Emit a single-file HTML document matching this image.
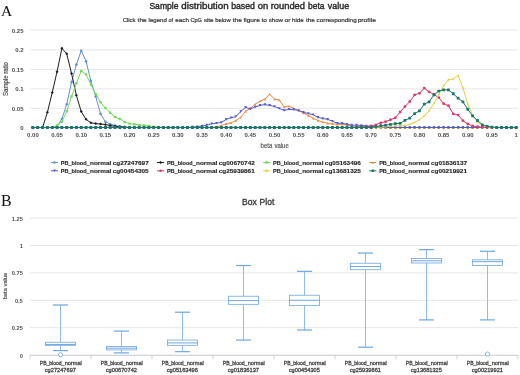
<!DOCTYPE html>
<html><head><meta charset="utf-8"><style>
html,body{margin:0;padding:0;background:#fff;width:520px;height:375px;overflow:hidden}
svg{display:block;will-change:transform}
text{font-family:"Liberation Sans",sans-serif}
.serif{font-family:"Liberation Serif",serif}
</style></head><body>
<svg width="520" height="375" viewBox="0 0 520 375">
<rect width="520" height="375" fill="#fff"/>

<text class="serif" x="0.9" y="15.6" font-size="15.5" fill="#111">A</text>
<text x="149.41" y="8.65" font-size="9" fill="#2a2a2a" textLength="29.06" lengthAdjust="spacingAndGlyphs" stroke="#2a2a2a" stroke-width="0.4">Sample</text>
<text x="181.39" y="8.65" font-size="9" fill="#2a2a2a" textLength="47.24" lengthAdjust="spacingAndGlyphs" stroke="#2a2a2a" stroke-width="0.4">distribution</text>
<text x="231.14" y="8.65" font-size="9" fill="#2a2a2a" textLength="23.72" lengthAdjust="spacingAndGlyphs" stroke="#2a2a2a" stroke-width="0.4">based</text>
<text x="257.70" y="8.65" font-size="9" fill="#2a2a2a" textLength="10.50" lengthAdjust="spacingAndGlyphs" stroke="#2a2a2a" stroke-width="0.4">on</text>
<text x="270.68" y="8.65" font-size="9" fill="#2a2a2a" textLength="34.32" lengthAdjust="spacingAndGlyphs" stroke="#2a2a2a" stroke-width="0.4">rounded</text>
<text x="307.96" y="8.65" font-size="9" fill="#2a2a2a" textLength="16.54" lengthAdjust="spacingAndGlyphs" stroke="#2a2a2a" stroke-width="0.4">beta</text>
<text x="327.77" y="8.65" font-size="9" fill="#2a2a2a" textLength="21.32" lengthAdjust="spacingAndGlyphs" stroke="#2a2a2a" stroke-width="0.4">value</text>
<text x="122.70" y="21.80" font-size="6.2" fill="#333" textLength="12.88" lengthAdjust="spacingAndGlyphs" stroke="#333" stroke-width="0.2">Click</text>
<text x="137.60" y="21.80" font-size="6.2" fill="#333" textLength="9.09" lengthAdjust="spacingAndGlyphs" stroke="#333" stroke-width="0.2">the</text>
<text x="148.59" y="21.80" font-size="6.2" fill="#333" textLength="18.30" lengthAdjust="spacingAndGlyphs" stroke="#333" stroke-width="0.2">legend</text>
<text x="168.47" y="21.80" font-size="6.2" fill="#333" textLength="4.52" lengthAdjust="spacingAndGlyphs" stroke="#333" stroke-width="0.2">of</text>
<text x="175.34" y="21.80" font-size="6.2" fill="#333" textLength="13.57" lengthAdjust="spacingAndGlyphs" stroke="#333" stroke-width="0.2">each</text>
<text x="190.42" y="21.80" font-size="6.2" fill="#333" textLength="11.60" lengthAdjust="spacingAndGlyphs" stroke="#333" stroke-width="0.2">CpG</text>
<text x="203.73" y="21.80" font-size="6.2" fill="#333" textLength="9.96" lengthAdjust="spacingAndGlyphs" stroke="#333" stroke-width="0.2">site</text>
<text x="215.22" y="21.80" font-size="6.2" fill="#333" textLength="15.46" lengthAdjust="spacingAndGlyphs" stroke="#333" stroke-width="0.2">below</text>
<text x="232.80" y="21.80" font-size="6.2" fill="#333" textLength="9.09" lengthAdjust="spacingAndGlyphs" stroke="#333" stroke-width="0.2">the</text>
<text x="243.41" y="21.80" font-size="6.2" fill="#333" textLength="16.38" lengthAdjust="spacingAndGlyphs" stroke="#333" stroke-width="0.2">figure</text>
<text x="261.50" y="21.80" font-size="6.2" fill="#333" textLength="5.57" lengthAdjust="spacingAndGlyphs" stroke="#333" stroke-width="0.2">to</text>
<text x="268.84" y="21.80" font-size="6.2" fill="#333" textLength="14.15" lengthAdjust="spacingAndGlyphs" stroke="#333" stroke-width="0.2">show</text>
<text x="284.52" y="21.80" font-size="6.2" fill="#333" textLength="5.99" lengthAdjust="spacingAndGlyphs" stroke="#333" stroke-width="0.2">or</text>
<text x="292.08" y="21.80" font-size="6.2" fill="#333" textLength="11.60" lengthAdjust="spacingAndGlyphs" stroke="#333" stroke-width="0.2">hide</text>
<text x="305.90" y="21.80" font-size="6.2" fill="#333" textLength="8.98" lengthAdjust="spacingAndGlyphs" stroke="#333" stroke-width="0.2">the</text>
<text x="316.63" y="21.80" font-size="6.2" fill="#333" textLength="40.02" lengthAdjust="spacingAndGlyphs" stroke="#333" stroke-width="0.2">corresponding</text>
<text x="357.67" y="21.80" font-size="6.2" fill="#333" textLength="18.22" lengthAdjust="spacingAndGlyphs" stroke="#333" stroke-width="0.2">profile</text>
<line x1="30.5" y1="30.00" x2="518.3" y2="30.00" stroke="#e6e6e6" stroke-width="1"/>
<line x1="30.5" y1="49.90" x2="518.3" y2="49.90" stroke="#e6e6e6" stroke-width="1"/>
<line x1="30.5" y1="69.40" x2="518.3" y2="69.40" stroke="#e6e6e6" stroke-width="1"/>
<line x1="30.5" y1="88.90" x2="518.3" y2="88.90" stroke="#e6e6e6" stroke-width="1"/>
<line x1="30.5" y1="108.30" x2="518.3" y2="108.30" stroke="#e6e6e6" stroke-width="1"/>
<text x="23.5" y="32.90" font-size="6" font-weight="bold" fill="#4a4a4a" text-anchor="end">0.25</text>
<text x="23.5" y="52.30" font-size="6" font-weight="bold" fill="#4a4a4a" text-anchor="end">0.2</text>
<text x="23.5" y="71.70" font-size="6" font-weight="bold" fill="#4a4a4a" text-anchor="end">0.15</text>
<text x="23.5" y="91.10" font-size="6" font-weight="bold" fill="#4a4a4a" text-anchor="end">0.1</text>
<text x="23.5" y="110.50" font-size="6" font-weight="bold" fill="#4a4a4a" text-anchor="end">0.05</text>
<text x="23.5" y="129.90" font-size="6" font-weight="bold" fill="#4a4a4a" text-anchor="end">0</text>
<line x1="30.5" y1="127.5" x2="518.3" y2="127.5" stroke="#c8d2e6" stroke-width="1"/>
<line x1="32.90" y1="127.5" x2="32.90" y2="131" stroke="#c8d2e6" stroke-width="0.6"/>
<text x="32.90" y="137.4" font-size="6" font-weight="bold" fill="#4a4a4a" text-anchor="middle">0.00</text>
<line x1="57.06" y1="127.5" x2="57.06" y2="131" stroke="#c8d2e6" stroke-width="0.6"/>
<text x="57.06" y="137.4" font-size="6" font-weight="bold" fill="#4a4a4a" text-anchor="middle">0.05</text>
<line x1="81.22" y1="127.5" x2="81.22" y2="131" stroke="#c8d2e6" stroke-width="0.6"/>
<text x="81.22" y="137.4" font-size="6" font-weight="bold" fill="#4a4a4a" text-anchor="middle">0.10</text>
<line x1="105.38" y1="127.5" x2="105.38" y2="131" stroke="#c8d2e6" stroke-width="0.6"/>
<text x="105.38" y="137.4" font-size="6" font-weight="bold" fill="#4a4a4a" text-anchor="middle">0.15</text>
<line x1="129.54" y1="127.5" x2="129.54" y2="131" stroke="#c8d2e6" stroke-width="0.6"/>
<text x="129.54" y="137.4" font-size="6" font-weight="bold" fill="#4a4a4a" text-anchor="middle">0.20</text>
<line x1="153.70" y1="127.5" x2="153.70" y2="131" stroke="#c8d2e6" stroke-width="0.6"/>
<text x="153.70" y="137.4" font-size="6" font-weight="bold" fill="#4a4a4a" text-anchor="middle">0.25</text>
<line x1="177.86" y1="127.5" x2="177.86" y2="131" stroke="#c8d2e6" stroke-width="0.6"/>
<text x="177.86" y="137.4" font-size="6" font-weight="bold" fill="#4a4a4a" text-anchor="middle">0.30</text>
<line x1="202.02" y1="127.5" x2="202.02" y2="131" stroke="#c8d2e6" stroke-width="0.6"/>
<text x="202.02" y="137.4" font-size="6" font-weight="bold" fill="#4a4a4a" text-anchor="middle">0.35</text>
<line x1="226.18" y1="127.5" x2="226.18" y2="131" stroke="#c8d2e6" stroke-width="0.6"/>
<text x="226.18" y="137.4" font-size="6" font-weight="bold" fill="#4a4a4a" text-anchor="middle">0.40</text>
<line x1="250.34" y1="127.5" x2="250.34" y2="131" stroke="#c8d2e6" stroke-width="0.6"/>
<text x="250.34" y="137.4" font-size="6" font-weight="bold" fill="#4a4a4a" text-anchor="middle">0.45</text>
<line x1="274.50" y1="127.5" x2="274.50" y2="131" stroke="#c8d2e6" stroke-width="0.6"/>
<text x="274.50" y="137.4" font-size="6" font-weight="bold" fill="#4a4a4a" text-anchor="middle">0.50</text>
<line x1="298.66" y1="127.5" x2="298.66" y2="131" stroke="#c8d2e6" stroke-width="0.6"/>
<text x="298.66" y="137.4" font-size="6" font-weight="bold" fill="#4a4a4a" text-anchor="middle">0.55</text>
<line x1="322.82" y1="127.5" x2="322.82" y2="131" stroke="#c8d2e6" stroke-width="0.6"/>
<text x="322.82" y="137.4" font-size="6" font-weight="bold" fill="#4a4a4a" text-anchor="middle">0.60</text>
<line x1="346.98" y1="127.5" x2="346.98" y2="131" stroke="#c8d2e6" stroke-width="0.6"/>
<text x="346.98" y="137.4" font-size="6" font-weight="bold" fill="#4a4a4a" text-anchor="middle">0.65</text>
<line x1="371.14" y1="127.5" x2="371.14" y2="131" stroke="#c8d2e6" stroke-width="0.6"/>
<text x="371.14" y="137.4" font-size="6" font-weight="bold" fill="#4a4a4a" text-anchor="middle">0.70</text>
<line x1="395.30" y1="127.5" x2="395.30" y2="131" stroke="#c8d2e6" stroke-width="0.6"/>
<text x="395.30" y="137.4" font-size="6" font-weight="bold" fill="#4a4a4a" text-anchor="middle">0.75</text>
<line x1="419.46" y1="127.5" x2="419.46" y2="131" stroke="#c8d2e6" stroke-width="0.6"/>
<text x="419.46" y="137.4" font-size="6" font-weight="bold" fill="#4a4a4a" text-anchor="middle">0.80</text>
<line x1="443.62" y1="127.5" x2="443.62" y2="131" stroke="#c8d2e6" stroke-width="0.6"/>
<text x="443.62" y="137.4" font-size="6" font-weight="bold" fill="#4a4a4a" text-anchor="middle">0.85</text>
<line x1="467.78" y1="127.5" x2="467.78" y2="131" stroke="#c8d2e6" stroke-width="0.6"/>
<text x="467.78" y="137.4" font-size="6" font-weight="bold" fill="#4a4a4a" text-anchor="middle">0.90</text>
<line x1="491.94" y1="127.5" x2="491.94" y2="131" stroke="#c8d2e6" stroke-width="0.6"/>
<text x="491.94" y="137.4" font-size="6" font-weight="bold" fill="#4a4a4a" text-anchor="middle">0.95</text>
<line x1="516.10" y1="127.5" x2="516.10" y2="131" stroke="#c8d2e6" stroke-width="0.6"/>
<text x="516.10" y="137.4" font-size="6" font-weight="bold" fill="#4a4a4a" text-anchor="middle">1</text>
<text x="260.61" y="147.70" font-size="6.4" fill="#4a4a4a" textLength="11.78" lengthAdjust="spacingAndGlyphs" stroke="#4a4a4a" stroke-width="0.12">beta</text>
<text x="274.48" y="147.70" font-size="6.4" fill="#4a4a4a" textLength="14.28" lengthAdjust="spacingAndGlyphs" stroke="#4a4a4a" stroke-width="0.12">value</text>
<text transform="translate(7.5 79) rotate(-90)" x="-17" y="0" font-size="6.3" fill="#4a4a4a" stroke="#4a4a4a" stroke-width="0.15" textLength="34" lengthAdjust="spacingAndGlyphs">Sample ratio</text>
<polyline points="32.90,127.50 37.73,127.50 42.56,127.50 47.40,127.50 52.23,127.50 57.06,126.34 61.89,118.96 66.72,104.22 71.56,82.10 76.39,64.64 81.22,50.68 86.05,61.15 90.88,80.94 95.72,96.46 100.55,113.92 105.38,121.68 110.21,124.20 115.04,125.56 119.88,126.34 124.71,127.11 129.54,127.50 134.37,127.50 139.20,127.50 144.04,127.50 148.87,127.50 153.70,127.50 158.53,127.50 163.36,127.50 168.20,127.50 173.03,127.50 177.86,127.50 182.69,127.50 187.52,127.50 192.36,127.50 197.19,127.50 202.02,127.50 206.85,127.50 211.68,127.50 216.52,127.50 221.35,127.50 226.18,127.50 231.01,127.50 235.84,127.50 240.68,127.50 245.51,127.50 250.34,127.50 255.17,127.50 260.00,127.50 264.84,127.50 269.67,127.50 274.50,127.50 279.33,127.50 284.16,127.50 289.00,127.50 293.83,127.50 298.66,127.50 303.49,127.50 308.32,127.50 313.16,127.50 317.99,127.50 322.82,127.50 327.65,127.50 332.48,127.50 337.32,127.50 342.15,127.50 346.98,127.50 351.81,127.50 356.64,127.50 361.48,127.50 366.31,127.50 371.14,127.50 375.97,127.50 380.80,127.50 385.64,127.50 390.47,127.50 395.30,127.50 400.13,127.50 404.96,127.50 409.80,127.50 414.63,127.50 419.46,127.50 424.29,127.50 429.12,127.50 433.96,127.50 438.79,127.50 443.62,127.50 448.45,127.50 453.28,127.50 458.12,127.50 462.95,127.50 467.78,127.50 472.61,127.50 477.44,127.50 482.28,127.50 487.11,127.50 491.94,127.50 496.77,127.50 501.60,127.50 506.44,127.50 511.27,127.50 516.10,127.50" fill="none" stroke="#6292d0" stroke-width="1" stroke-linejoin="round"/>
<circle cx="32.90" cy="127.50" r="1.3" fill="#6292d0"/>
<circle cx="37.73" cy="127.50" r="1.3" fill="#6292d0"/>
<circle cx="42.56" cy="127.50" r="1.3" fill="#6292d0"/>
<circle cx="47.40" cy="127.50" r="1.3" fill="#6292d0"/>
<circle cx="52.23" cy="127.50" r="1.3" fill="#6292d0"/>
<circle cx="57.06" cy="126.34" r="1.3" fill="#6292d0"/>
<circle cx="61.89" cy="118.96" r="1.3" fill="#6292d0"/>
<circle cx="66.72" cy="104.22" r="1.3" fill="#6292d0"/>
<circle cx="71.56" cy="82.10" r="1.3" fill="#6292d0"/>
<circle cx="76.39" cy="64.64" r="1.3" fill="#6292d0"/>
<circle cx="81.22" cy="50.68" r="1.3" fill="#6292d0"/>
<circle cx="86.05" cy="61.15" r="1.3" fill="#6292d0"/>
<circle cx="90.88" cy="80.94" r="1.3" fill="#6292d0"/>
<circle cx="95.72" cy="96.46" r="1.3" fill="#6292d0"/>
<circle cx="100.55" cy="113.92" r="1.3" fill="#6292d0"/>
<circle cx="105.38" cy="121.68" r="1.3" fill="#6292d0"/>
<circle cx="110.21" cy="124.20" r="1.3" fill="#6292d0"/>
<circle cx="115.04" cy="125.56" r="1.3" fill="#6292d0"/>
<circle cx="119.88" cy="126.34" r="1.3" fill="#6292d0"/>
<circle cx="124.71" cy="127.11" r="1.3" fill="#6292d0"/>
<circle cx="129.54" cy="127.50" r="1.3" fill="#6292d0"/>
<circle cx="134.37" cy="127.50" r="1.3" fill="#6292d0"/>
<circle cx="139.20" cy="127.50" r="1.3" fill="#6292d0"/>
<circle cx="144.04" cy="127.50" r="1.3" fill="#6292d0"/>
<circle cx="148.87" cy="127.50" r="1.3" fill="#6292d0"/>
<circle cx="153.70" cy="127.50" r="1.3" fill="#6292d0"/>
<circle cx="158.53" cy="127.50" r="1.3" fill="#6292d0"/>
<circle cx="163.36" cy="127.50" r="1.3" fill="#6292d0"/>
<circle cx="168.20" cy="127.50" r="1.3" fill="#6292d0"/>
<circle cx="173.03" cy="127.50" r="1.3" fill="#6292d0"/>
<circle cx="177.86" cy="127.50" r="1.3" fill="#6292d0"/>
<circle cx="182.69" cy="127.50" r="1.3" fill="#6292d0"/>
<circle cx="187.52" cy="127.50" r="1.3" fill="#6292d0"/>
<circle cx="192.36" cy="127.50" r="1.3" fill="#6292d0"/>
<circle cx="197.19" cy="127.50" r="1.3" fill="#6292d0"/>
<circle cx="202.02" cy="127.50" r="1.3" fill="#6292d0"/>
<circle cx="206.85" cy="127.50" r="1.3" fill="#6292d0"/>
<circle cx="211.68" cy="127.50" r="1.3" fill="#6292d0"/>
<circle cx="216.52" cy="127.50" r="1.3" fill="#6292d0"/>
<circle cx="221.35" cy="127.50" r="1.3" fill="#6292d0"/>
<circle cx="226.18" cy="127.50" r="1.3" fill="#6292d0"/>
<circle cx="231.01" cy="127.50" r="1.3" fill="#6292d0"/>
<circle cx="235.84" cy="127.50" r="1.3" fill="#6292d0"/>
<circle cx="240.68" cy="127.50" r="1.3" fill="#6292d0"/>
<circle cx="245.51" cy="127.50" r="1.3" fill="#6292d0"/>
<circle cx="250.34" cy="127.50" r="1.3" fill="#6292d0"/>
<circle cx="255.17" cy="127.50" r="1.3" fill="#6292d0"/>
<circle cx="260.00" cy="127.50" r="1.3" fill="#6292d0"/>
<circle cx="264.84" cy="127.50" r="1.3" fill="#6292d0"/>
<circle cx="269.67" cy="127.50" r="1.3" fill="#6292d0"/>
<circle cx="274.50" cy="127.50" r="1.3" fill="#6292d0"/>
<circle cx="279.33" cy="127.50" r="1.3" fill="#6292d0"/>
<circle cx="284.16" cy="127.50" r="1.3" fill="#6292d0"/>
<circle cx="289.00" cy="127.50" r="1.3" fill="#6292d0"/>
<circle cx="293.83" cy="127.50" r="1.3" fill="#6292d0"/>
<circle cx="298.66" cy="127.50" r="1.3" fill="#6292d0"/>
<circle cx="303.49" cy="127.50" r="1.3" fill="#6292d0"/>
<circle cx="308.32" cy="127.50" r="1.3" fill="#6292d0"/>
<circle cx="313.16" cy="127.50" r="1.3" fill="#6292d0"/>
<circle cx="317.99" cy="127.50" r="1.3" fill="#6292d0"/>
<circle cx="322.82" cy="127.50" r="1.3" fill="#6292d0"/>
<circle cx="327.65" cy="127.50" r="1.3" fill="#6292d0"/>
<circle cx="332.48" cy="127.50" r="1.3" fill="#6292d0"/>
<circle cx="337.32" cy="127.50" r="1.3" fill="#6292d0"/>
<circle cx="342.15" cy="127.50" r="1.3" fill="#6292d0"/>
<circle cx="346.98" cy="127.50" r="1.3" fill="#6292d0"/>
<circle cx="351.81" cy="127.50" r="1.3" fill="#6292d0"/>
<circle cx="356.64" cy="127.50" r="1.3" fill="#6292d0"/>
<circle cx="361.48" cy="127.50" r="1.3" fill="#6292d0"/>
<circle cx="366.31" cy="127.50" r="1.3" fill="#6292d0"/>
<circle cx="371.14" cy="127.50" r="1.3" fill="#6292d0"/>
<circle cx="375.97" cy="127.50" r="1.3" fill="#6292d0"/>
<circle cx="380.80" cy="127.50" r="1.3" fill="#6292d0"/>
<circle cx="385.64" cy="127.50" r="1.3" fill="#6292d0"/>
<circle cx="390.47" cy="127.50" r="1.3" fill="#6292d0"/>
<circle cx="395.30" cy="127.50" r="1.3" fill="#6292d0"/>
<circle cx="400.13" cy="127.50" r="1.3" fill="#6292d0"/>
<circle cx="404.96" cy="127.50" r="1.3" fill="#6292d0"/>
<circle cx="409.80" cy="127.50" r="1.3" fill="#6292d0"/>
<circle cx="414.63" cy="127.50" r="1.3" fill="#6292d0"/>
<circle cx="419.46" cy="127.50" r="1.3" fill="#6292d0"/>
<circle cx="424.29" cy="127.50" r="1.3" fill="#6292d0"/>
<circle cx="429.12" cy="127.50" r="1.3" fill="#6292d0"/>
<circle cx="433.96" cy="127.50" r="1.3" fill="#6292d0"/>
<circle cx="438.79" cy="127.50" r="1.3" fill="#6292d0"/>
<circle cx="443.62" cy="127.50" r="1.3" fill="#6292d0"/>
<circle cx="448.45" cy="127.50" r="1.3" fill="#6292d0"/>
<circle cx="453.28" cy="127.50" r="1.3" fill="#6292d0"/>
<circle cx="458.12" cy="127.50" r="1.3" fill="#6292d0"/>
<circle cx="462.95" cy="127.50" r="1.3" fill="#6292d0"/>
<circle cx="467.78" cy="127.50" r="1.3" fill="#6292d0"/>
<circle cx="472.61" cy="127.50" r="1.3" fill="#6292d0"/>
<circle cx="477.44" cy="127.50" r="1.3" fill="#6292d0"/>
<circle cx="482.28" cy="127.50" r="1.3" fill="#6292d0"/>
<circle cx="487.11" cy="127.50" r="1.3" fill="#6292d0"/>
<circle cx="491.94" cy="127.50" r="1.3" fill="#6292d0"/>
<circle cx="496.77" cy="127.50" r="1.3" fill="#6292d0"/>
<circle cx="501.60" cy="127.50" r="1.3" fill="#6292d0"/>
<circle cx="506.44" cy="127.50" r="1.3" fill="#6292d0"/>
<circle cx="511.27" cy="127.50" r="1.3" fill="#6292d0"/>
<circle cx="516.10" cy="127.50" r="1.3" fill="#6292d0"/>
<polyline points="32.90,127.50 37.73,127.50 42.56,127.50 47.40,112.37 52.23,92.58 57.06,71.63 61.89,48.35 66.72,53.78 71.56,73.57 76.39,95.30 81.22,111.59 86.05,119.35 90.88,122.84 95.72,123.62 100.55,124.01 105.38,124.59 110.21,125.56 115.04,126.34 119.88,126.72 124.71,127.11 129.54,127.50 134.37,127.50 139.20,127.50 144.04,127.50 148.87,127.50 153.70,127.50 158.53,127.50 163.36,127.50 168.20,127.50 173.03,127.50 177.86,127.50 182.69,127.50 187.52,127.50 192.36,127.50 197.19,127.50 202.02,127.50 206.85,127.50 211.68,127.50 216.52,127.50 221.35,127.50 226.18,127.50 231.01,127.50 235.84,127.50 240.68,127.50 245.51,127.50 250.34,127.50 255.17,127.50 260.00,127.50 264.84,127.50 269.67,127.50 274.50,127.50 279.33,127.50 284.16,127.50 289.00,127.50 293.83,127.50 298.66,127.50 303.49,127.50 308.32,127.50 313.16,127.50 317.99,127.50 322.82,127.50 327.65,127.50 332.48,127.50 337.32,127.50 342.15,127.50 346.98,127.50 351.81,127.50 356.64,127.50 361.48,127.50 366.31,127.50 371.14,127.50 375.97,127.50 380.80,127.50 385.64,127.50 390.47,127.50 395.30,127.50 400.13,127.50 404.96,127.50 409.80,127.50 414.63,127.50 419.46,127.50 424.29,127.50 429.12,127.50 433.96,127.50 438.79,127.50 443.62,127.50 448.45,127.50 453.28,127.50 458.12,127.50 462.95,127.50 467.78,127.50 472.61,127.50 477.44,127.50 482.28,127.50 487.11,127.50 491.94,127.50 496.77,127.50 501.60,127.50 506.44,127.50 511.27,127.50 516.10,127.50" fill="none" stroke="#1e1e22" stroke-width="1" stroke-linejoin="round"/>
<path d="M32.90 126.00L34.40 127.50L32.90 129.00L31.40 127.50Z" fill="#1e1e22"/>
<path d="M37.73 126.00L39.23 127.50L37.73 129.00L36.23 127.50Z" fill="#1e1e22"/>
<path d="M42.56 126.00L44.06 127.50L42.56 129.00L41.06 127.50Z" fill="#1e1e22"/>
<path d="M47.40 110.87L48.90 112.37L47.40 113.87L45.90 112.37Z" fill="#1e1e22"/>
<path d="M52.23 91.08L53.73 92.58L52.23 94.08L50.73 92.58Z" fill="#1e1e22"/>
<path d="M57.06 70.13L58.56 71.63L57.06 73.13L55.56 71.63Z" fill="#1e1e22"/>
<path d="M61.89 46.85L63.39 48.35L61.89 49.85L60.39 48.35Z" fill="#1e1e22"/>
<path d="M66.72 52.28L68.22 53.78L66.72 55.28L65.22 53.78Z" fill="#1e1e22"/>
<path d="M71.56 72.07L73.06 73.57L71.56 75.07L70.06 73.57Z" fill="#1e1e22"/>
<path d="M76.39 93.80L77.89 95.30L76.39 96.80L74.89 95.30Z" fill="#1e1e22"/>
<path d="M81.22 110.09L82.72 111.59L81.22 113.09L79.72 111.59Z" fill="#1e1e22"/>
<path d="M86.05 117.85L87.55 119.35L86.05 120.85L84.55 119.35Z" fill="#1e1e22"/>
<path d="M90.88 121.34L92.38 122.84L90.88 124.34L89.38 122.84Z" fill="#1e1e22"/>
<path d="M95.72 122.12L97.22 123.62L95.72 125.12L94.22 123.62Z" fill="#1e1e22"/>
<path d="M100.55 122.51L102.05 124.01L100.55 125.51L99.05 124.01Z" fill="#1e1e22"/>
<path d="M105.38 123.09L106.88 124.59L105.38 126.09L103.88 124.59Z" fill="#1e1e22"/>
<path d="M110.21 124.06L111.71 125.56L110.21 127.06L108.71 125.56Z" fill="#1e1e22"/>
<path d="M115.04 124.84L116.54 126.34L115.04 127.84L113.54 126.34Z" fill="#1e1e22"/>
<path d="M119.88 125.22L121.38 126.72L119.88 128.22L118.38 126.72Z" fill="#1e1e22"/>
<path d="M124.71 125.61L126.21 127.11L124.71 128.61L123.21 127.11Z" fill="#1e1e22"/>
<path d="M129.54 126.00L131.04 127.50L129.54 129.00L128.04 127.50Z" fill="#1e1e22"/>
<path d="M134.37 126.00L135.87 127.50L134.37 129.00L132.87 127.50Z" fill="#1e1e22"/>
<path d="M139.20 126.00L140.70 127.50L139.20 129.00L137.70 127.50Z" fill="#1e1e22"/>
<path d="M144.04 126.00L145.54 127.50L144.04 129.00L142.54 127.50Z" fill="#1e1e22"/>
<path d="M148.87 126.00L150.37 127.50L148.87 129.00L147.37 127.50Z" fill="#1e1e22"/>
<path d="M153.70 126.00L155.20 127.50L153.70 129.00L152.20 127.50Z" fill="#1e1e22"/>
<path d="M158.53 126.00L160.03 127.50L158.53 129.00L157.03 127.50Z" fill="#1e1e22"/>
<path d="M163.36 126.00L164.86 127.50L163.36 129.00L161.86 127.50Z" fill="#1e1e22"/>
<path d="M168.20 126.00L169.70 127.50L168.20 129.00L166.70 127.50Z" fill="#1e1e22"/>
<path d="M173.03 126.00L174.53 127.50L173.03 129.00L171.53 127.50Z" fill="#1e1e22"/>
<path d="M177.86 126.00L179.36 127.50L177.86 129.00L176.36 127.50Z" fill="#1e1e22"/>
<path d="M182.69 126.00L184.19 127.50L182.69 129.00L181.19 127.50Z" fill="#1e1e22"/>
<path d="M187.52 126.00L189.02 127.50L187.52 129.00L186.02 127.50Z" fill="#1e1e22"/>
<path d="M192.36 126.00L193.86 127.50L192.36 129.00L190.86 127.50Z" fill="#1e1e22"/>
<path d="M197.19 126.00L198.69 127.50L197.19 129.00L195.69 127.50Z" fill="#1e1e22"/>
<path d="M202.02 126.00L203.52 127.50L202.02 129.00L200.52 127.50Z" fill="#1e1e22"/>
<path d="M206.85 126.00L208.35 127.50L206.85 129.00L205.35 127.50Z" fill="#1e1e22"/>
<path d="M211.68 126.00L213.18 127.50L211.68 129.00L210.18 127.50Z" fill="#1e1e22"/>
<path d="M216.52 126.00L218.02 127.50L216.52 129.00L215.02 127.50Z" fill="#1e1e22"/>
<path d="M221.35 126.00L222.85 127.50L221.35 129.00L219.85 127.50Z" fill="#1e1e22"/>
<path d="M226.18 126.00L227.68 127.50L226.18 129.00L224.68 127.50Z" fill="#1e1e22"/>
<path d="M231.01 126.00L232.51 127.50L231.01 129.00L229.51 127.50Z" fill="#1e1e22"/>
<path d="M235.84 126.00L237.34 127.50L235.84 129.00L234.34 127.50Z" fill="#1e1e22"/>
<path d="M240.68 126.00L242.18 127.50L240.68 129.00L239.18 127.50Z" fill="#1e1e22"/>
<path d="M245.51 126.00L247.01 127.50L245.51 129.00L244.01 127.50Z" fill="#1e1e22"/>
<path d="M250.34 126.00L251.84 127.50L250.34 129.00L248.84 127.50Z" fill="#1e1e22"/>
<path d="M255.17 126.00L256.67 127.50L255.17 129.00L253.67 127.50Z" fill="#1e1e22"/>
<path d="M260.00 126.00L261.50 127.50L260.00 129.00L258.50 127.50Z" fill="#1e1e22"/>
<path d="M264.84 126.00L266.34 127.50L264.84 129.00L263.34 127.50Z" fill="#1e1e22"/>
<path d="M269.67 126.00L271.17 127.50L269.67 129.00L268.17 127.50Z" fill="#1e1e22"/>
<path d="M274.50 126.00L276.00 127.50L274.50 129.00L273.00 127.50Z" fill="#1e1e22"/>
<path d="M279.33 126.00L280.83 127.50L279.33 129.00L277.83 127.50Z" fill="#1e1e22"/>
<path d="M284.16 126.00L285.66 127.50L284.16 129.00L282.66 127.50Z" fill="#1e1e22"/>
<path d="M289.00 126.00L290.50 127.50L289.00 129.00L287.50 127.50Z" fill="#1e1e22"/>
<path d="M293.83 126.00L295.33 127.50L293.83 129.00L292.33 127.50Z" fill="#1e1e22"/>
<path d="M298.66 126.00L300.16 127.50L298.66 129.00L297.16 127.50Z" fill="#1e1e22"/>
<path d="M303.49 126.00L304.99 127.50L303.49 129.00L301.99 127.50Z" fill="#1e1e22"/>
<path d="M308.32 126.00L309.82 127.50L308.32 129.00L306.82 127.50Z" fill="#1e1e22"/>
<path d="M313.16 126.00L314.66 127.50L313.16 129.00L311.66 127.50Z" fill="#1e1e22"/>
<path d="M317.99 126.00L319.49 127.50L317.99 129.00L316.49 127.50Z" fill="#1e1e22"/>
<path d="M322.82 126.00L324.32 127.50L322.82 129.00L321.32 127.50Z" fill="#1e1e22"/>
<path d="M327.65 126.00L329.15 127.50L327.65 129.00L326.15 127.50Z" fill="#1e1e22"/>
<path d="M332.48 126.00L333.98 127.50L332.48 129.00L330.98 127.50Z" fill="#1e1e22"/>
<path d="M337.32 126.00L338.82 127.50L337.32 129.00L335.82 127.50Z" fill="#1e1e22"/>
<path d="M342.15 126.00L343.65 127.50L342.15 129.00L340.65 127.50Z" fill="#1e1e22"/>
<path d="M346.98 126.00L348.48 127.50L346.98 129.00L345.48 127.50Z" fill="#1e1e22"/>
<path d="M351.81 126.00L353.31 127.50L351.81 129.00L350.31 127.50Z" fill="#1e1e22"/>
<path d="M356.64 126.00L358.14 127.50L356.64 129.00L355.14 127.50Z" fill="#1e1e22"/>
<path d="M361.48 126.00L362.98 127.50L361.48 129.00L359.98 127.50Z" fill="#1e1e22"/>
<path d="M366.31 126.00L367.81 127.50L366.31 129.00L364.81 127.50Z" fill="#1e1e22"/>
<path d="M371.14 126.00L372.64 127.50L371.14 129.00L369.64 127.50Z" fill="#1e1e22"/>
<path d="M375.97 126.00L377.47 127.50L375.97 129.00L374.47 127.50Z" fill="#1e1e22"/>
<path d="M380.80 126.00L382.30 127.50L380.80 129.00L379.30 127.50Z" fill="#1e1e22"/>
<path d="M385.64 126.00L387.14 127.50L385.64 129.00L384.14 127.50Z" fill="#1e1e22"/>
<path d="M390.47 126.00L391.97 127.50L390.47 129.00L388.97 127.50Z" fill="#1e1e22"/>
<path d="M395.30 126.00L396.80 127.50L395.30 129.00L393.80 127.50Z" fill="#1e1e22"/>
<path d="M400.13 126.00L401.63 127.50L400.13 129.00L398.63 127.50Z" fill="#1e1e22"/>
<path d="M404.96 126.00L406.46 127.50L404.96 129.00L403.46 127.50Z" fill="#1e1e22"/>
<path d="M409.80 126.00L411.30 127.50L409.80 129.00L408.30 127.50Z" fill="#1e1e22"/>
<path d="M414.63 126.00L416.13 127.50L414.63 129.00L413.13 127.50Z" fill="#1e1e22"/>
<path d="M419.46 126.00L420.96 127.50L419.46 129.00L417.96 127.50Z" fill="#1e1e22"/>
<path d="M424.29 126.00L425.79 127.50L424.29 129.00L422.79 127.50Z" fill="#1e1e22"/>
<path d="M429.12 126.00L430.62 127.50L429.12 129.00L427.62 127.50Z" fill="#1e1e22"/>
<path d="M433.96 126.00L435.46 127.50L433.96 129.00L432.46 127.50Z" fill="#1e1e22"/>
<path d="M438.79 126.00L440.29 127.50L438.79 129.00L437.29 127.50Z" fill="#1e1e22"/>
<path d="M443.62 126.00L445.12 127.50L443.62 129.00L442.12 127.50Z" fill="#1e1e22"/>
<path d="M448.45 126.00L449.95 127.50L448.45 129.00L446.95 127.50Z" fill="#1e1e22"/>
<path d="M453.28 126.00L454.78 127.50L453.28 129.00L451.78 127.50Z" fill="#1e1e22"/>
<path d="M458.12 126.00L459.62 127.50L458.12 129.00L456.62 127.50Z" fill="#1e1e22"/>
<path d="M462.95 126.00L464.45 127.50L462.95 129.00L461.45 127.50Z" fill="#1e1e22"/>
<path d="M467.78 126.00L469.28 127.50L467.78 129.00L466.28 127.50Z" fill="#1e1e22"/>
<path d="M472.61 126.00L474.11 127.50L472.61 129.00L471.11 127.50Z" fill="#1e1e22"/>
<path d="M477.44 126.00L478.94 127.50L477.44 129.00L475.94 127.50Z" fill="#1e1e22"/>
<path d="M482.28 126.00L483.78 127.50L482.28 129.00L480.78 127.50Z" fill="#1e1e22"/>
<path d="M487.11 126.00L488.61 127.50L487.11 129.00L485.61 127.50Z" fill="#1e1e22"/>
<path d="M491.94 126.00L493.44 127.50L491.94 129.00L490.44 127.50Z" fill="#1e1e22"/>
<path d="M496.77 126.00L498.27 127.50L496.77 129.00L495.27 127.50Z" fill="#1e1e22"/>
<path d="M501.60 126.00L503.10 127.50L501.60 129.00L500.10 127.50Z" fill="#1e1e22"/>
<path d="M506.44 126.00L507.94 127.50L506.44 129.00L504.94 127.50Z" fill="#1e1e22"/>
<path d="M511.27 126.00L512.77 127.50L511.27 129.00L509.77 127.50Z" fill="#1e1e22"/>
<path d="M516.10 126.00L517.60 127.50L516.10 129.00L514.60 127.50Z" fill="#1e1e22"/>
<polyline points="32.90,127.50 37.73,127.50 42.56,127.50 47.40,127.50 52.23,127.50 57.06,125.56 61.89,121.68 66.72,111.20 71.56,96.46 76.39,83.27 81.22,70.85 86.05,74.34 90.88,84.43 95.72,94.13 100.55,102.28 105.38,108.10 110.21,112.76 115.04,117.02 119.88,118.96 124.71,122.07 129.54,123.62 134.37,124.20 139.20,125.02 144.04,125.56 148.87,125.95 153.70,126.72 158.53,127.11 163.36,127.50 168.20,127.50 173.03,127.50 177.86,127.50 182.69,127.50 187.52,127.50 192.36,127.50 197.19,127.50 202.02,127.50 206.85,127.50 211.68,127.50 216.52,127.50 221.35,127.50 226.18,127.50 231.01,127.50 235.84,127.50 240.68,127.50 245.51,127.50 250.34,127.50 255.17,127.50 260.00,127.50 264.84,127.50 269.67,127.50 274.50,127.50 279.33,127.50 284.16,127.50 289.00,127.50 293.83,127.50 298.66,127.50 303.49,127.50 308.32,127.50 313.16,127.50 317.99,127.50 322.82,127.50 327.65,127.50 332.48,127.50 337.32,127.50 342.15,127.50 346.98,127.50 351.81,127.50 356.64,127.50 361.48,127.50 366.31,127.50 371.14,127.50 375.97,127.50 380.80,127.50 385.64,127.50 390.47,127.50 395.30,127.50 400.13,127.50 404.96,127.50 409.80,127.50 414.63,127.50 419.46,127.50 424.29,127.50 429.12,127.50 433.96,127.50 438.79,127.50 443.62,127.50 448.45,127.50 453.28,127.50 458.12,127.50 462.95,127.50 467.78,127.50 472.61,127.50 477.44,127.50 482.28,127.50 487.11,127.50 491.94,127.50 496.77,127.50 501.60,127.50 506.44,127.50 511.27,127.50 516.10,127.50" fill="none" stroke="#72dc5a" stroke-width="1" stroke-linejoin="round"/>
<rect x="31.70" y="126.30" width="2.4" height="2.4" rx="0.54" fill="#72dc5a"/>
<rect x="36.53" y="126.30" width="2.4" height="2.4" rx="0.54" fill="#72dc5a"/>
<rect x="41.36" y="126.30" width="2.4" height="2.4" rx="0.54" fill="#72dc5a"/>
<rect x="46.20" y="126.30" width="2.4" height="2.4" rx="0.54" fill="#72dc5a"/>
<rect x="51.03" y="126.30" width="2.4" height="2.4" rx="0.54" fill="#72dc5a"/>
<rect x="55.86" y="124.36" width="2.4" height="2.4" rx="0.54" fill="#72dc5a"/>
<rect x="60.69" y="120.48" width="2.4" height="2.4" rx="0.54" fill="#72dc5a"/>
<rect x="65.52" y="110.00" width="2.4" height="2.4" rx="0.54" fill="#72dc5a"/>
<rect x="70.36" y="95.26" width="2.4" height="2.4" rx="0.54" fill="#72dc5a"/>
<rect x="75.19" y="82.07" width="2.4" height="2.4" rx="0.54" fill="#72dc5a"/>
<rect x="80.02" y="69.65" width="2.4" height="2.4" rx="0.54" fill="#72dc5a"/>
<rect x="84.85" y="73.14" width="2.4" height="2.4" rx="0.54" fill="#72dc5a"/>
<rect x="89.68" y="83.23" width="2.4" height="2.4" rx="0.54" fill="#72dc5a"/>
<rect x="94.52" y="92.93" width="2.4" height="2.4" rx="0.54" fill="#72dc5a"/>
<rect x="99.35" y="101.08" width="2.4" height="2.4" rx="0.54" fill="#72dc5a"/>
<rect x="104.18" y="106.90" width="2.4" height="2.4" rx="0.54" fill="#72dc5a"/>
<rect x="109.01" y="111.56" width="2.4" height="2.4" rx="0.54" fill="#72dc5a"/>
<rect x="113.84" y="115.82" width="2.4" height="2.4" rx="0.54" fill="#72dc5a"/>
<rect x="118.68" y="117.76" width="2.4" height="2.4" rx="0.54" fill="#72dc5a"/>
<rect x="123.51" y="120.87" width="2.4" height="2.4" rx="0.54" fill="#72dc5a"/>
<rect x="128.34" y="122.42" width="2.4" height="2.4" rx="0.54" fill="#72dc5a"/>
<rect x="133.17" y="123.00" width="2.4" height="2.4" rx="0.54" fill="#72dc5a"/>
<rect x="138.00" y="123.82" width="2.4" height="2.4" rx="0.54" fill="#72dc5a"/>
<rect x="142.84" y="124.36" width="2.4" height="2.4" rx="0.54" fill="#72dc5a"/>
<rect x="147.67" y="124.75" width="2.4" height="2.4" rx="0.54" fill="#72dc5a"/>
<rect x="152.50" y="125.52" width="2.4" height="2.4" rx="0.54" fill="#72dc5a"/>
<rect x="157.33" y="125.91" width="2.4" height="2.4" rx="0.54" fill="#72dc5a"/>
<rect x="162.16" y="126.30" width="2.4" height="2.4" rx="0.54" fill="#72dc5a"/>
<rect x="167.00" y="126.30" width="2.4" height="2.4" rx="0.54" fill="#72dc5a"/>
<rect x="171.83" y="126.30" width="2.4" height="2.4" rx="0.54" fill="#72dc5a"/>
<rect x="176.66" y="126.30" width="2.4" height="2.4" rx="0.54" fill="#72dc5a"/>
<rect x="181.49" y="126.30" width="2.4" height="2.4" rx="0.54" fill="#72dc5a"/>
<rect x="186.32" y="126.30" width="2.4" height="2.4" rx="0.54" fill="#72dc5a"/>
<rect x="191.16" y="126.30" width="2.4" height="2.4" rx="0.54" fill="#72dc5a"/>
<rect x="195.99" y="126.30" width="2.4" height="2.4" rx="0.54" fill="#72dc5a"/>
<rect x="200.82" y="126.30" width="2.4" height="2.4" rx="0.54" fill="#72dc5a"/>
<rect x="205.65" y="126.30" width="2.4" height="2.4" rx="0.54" fill="#72dc5a"/>
<rect x="210.48" y="126.30" width="2.4" height="2.4" rx="0.54" fill="#72dc5a"/>
<rect x="215.32" y="126.30" width="2.4" height="2.4" rx="0.54" fill="#72dc5a"/>
<rect x="220.15" y="126.30" width="2.4" height="2.4" rx="0.54" fill="#72dc5a"/>
<rect x="224.98" y="126.30" width="2.4" height="2.4" rx="0.54" fill="#72dc5a"/>
<rect x="229.81" y="126.30" width="2.4" height="2.4" rx="0.54" fill="#72dc5a"/>
<rect x="234.64" y="126.30" width="2.4" height="2.4" rx="0.54" fill="#72dc5a"/>
<rect x="239.48" y="126.30" width="2.4" height="2.4" rx="0.54" fill="#72dc5a"/>
<rect x="244.31" y="126.30" width="2.4" height="2.4" rx="0.54" fill="#72dc5a"/>
<rect x="249.14" y="126.30" width="2.4" height="2.4" rx="0.54" fill="#72dc5a"/>
<rect x="253.97" y="126.30" width="2.4" height="2.4" rx="0.54" fill="#72dc5a"/>
<rect x="258.80" y="126.30" width="2.4" height="2.4" rx="0.54" fill="#72dc5a"/>
<rect x="263.64" y="126.30" width="2.4" height="2.4" rx="0.54" fill="#72dc5a"/>
<rect x="268.47" y="126.30" width="2.4" height="2.4" rx="0.54" fill="#72dc5a"/>
<rect x="273.30" y="126.30" width="2.4" height="2.4" rx="0.54" fill="#72dc5a"/>
<rect x="278.13" y="126.30" width="2.4" height="2.4" rx="0.54" fill="#72dc5a"/>
<rect x="282.96" y="126.30" width="2.4" height="2.4" rx="0.54" fill="#72dc5a"/>
<rect x="287.80" y="126.30" width="2.4" height="2.4" rx="0.54" fill="#72dc5a"/>
<rect x="292.63" y="126.30" width="2.4" height="2.4" rx="0.54" fill="#72dc5a"/>
<rect x="297.46" y="126.30" width="2.4" height="2.4" rx="0.54" fill="#72dc5a"/>
<rect x="302.29" y="126.30" width="2.4" height="2.4" rx="0.54" fill="#72dc5a"/>
<rect x="307.12" y="126.30" width="2.4" height="2.4" rx="0.54" fill="#72dc5a"/>
<rect x="311.96" y="126.30" width="2.4" height="2.4" rx="0.54" fill="#72dc5a"/>
<rect x="316.79" y="126.30" width="2.4" height="2.4" rx="0.54" fill="#72dc5a"/>
<rect x="321.62" y="126.30" width="2.4" height="2.4" rx="0.54" fill="#72dc5a"/>
<rect x="326.45" y="126.30" width="2.4" height="2.4" rx="0.54" fill="#72dc5a"/>
<rect x="331.28" y="126.30" width="2.4" height="2.4" rx="0.54" fill="#72dc5a"/>
<rect x="336.12" y="126.30" width="2.4" height="2.4" rx="0.54" fill="#72dc5a"/>
<rect x="340.95" y="126.30" width="2.4" height="2.4" rx="0.54" fill="#72dc5a"/>
<rect x="345.78" y="126.30" width="2.4" height="2.4" rx="0.54" fill="#72dc5a"/>
<rect x="350.61" y="126.30" width="2.4" height="2.4" rx="0.54" fill="#72dc5a"/>
<rect x="355.44" y="126.30" width="2.4" height="2.4" rx="0.54" fill="#72dc5a"/>
<rect x="360.28" y="126.30" width="2.4" height="2.4" rx="0.54" fill="#72dc5a"/>
<rect x="365.11" y="126.30" width="2.4" height="2.4" rx="0.54" fill="#72dc5a"/>
<rect x="369.94" y="126.30" width="2.4" height="2.4" rx="0.54" fill="#72dc5a"/>
<rect x="374.77" y="126.30" width="2.4" height="2.4" rx="0.54" fill="#72dc5a"/>
<rect x="379.60" y="126.30" width="2.4" height="2.4" rx="0.54" fill="#72dc5a"/>
<rect x="384.44" y="126.30" width="2.4" height="2.4" rx="0.54" fill="#72dc5a"/>
<rect x="389.27" y="126.30" width="2.4" height="2.4" rx="0.54" fill="#72dc5a"/>
<rect x="394.10" y="126.30" width="2.4" height="2.4" rx="0.54" fill="#72dc5a"/>
<rect x="398.93" y="126.30" width="2.4" height="2.4" rx="0.54" fill="#72dc5a"/>
<rect x="403.76" y="126.30" width="2.4" height="2.4" rx="0.54" fill="#72dc5a"/>
<rect x="408.60" y="126.30" width="2.4" height="2.4" rx="0.54" fill="#72dc5a"/>
<rect x="413.43" y="126.30" width="2.4" height="2.4" rx="0.54" fill="#72dc5a"/>
<rect x="418.26" y="126.30" width="2.4" height="2.4" rx="0.54" fill="#72dc5a"/>
<rect x="423.09" y="126.30" width="2.4" height="2.4" rx="0.54" fill="#72dc5a"/>
<rect x="427.92" y="126.30" width="2.4" height="2.4" rx="0.54" fill="#72dc5a"/>
<rect x="432.76" y="126.30" width="2.4" height="2.4" rx="0.54" fill="#72dc5a"/>
<rect x="437.59" y="126.30" width="2.4" height="2.4" rx="0.54" fill="#72dc5a"/>
<rect x="442.42" y="126.30" width="2.4" height="2.4" rx="0.54" fill="#72dc5a"/>
<rect x="447.25" y="126.30" width="2.4" height="2.4" rx="0.54" fill="#72dc5a"/>
<rect x="452.08" y="126.30" width="2.4" height="2.4" rx="0.54" fill="#72dc5a"/>
<rect x="456.92" y="126.30" width="2.4" height="2.4" rx="0.54" fill="#72dc5a"/>
<rect x="461.75" y="126.30" width="2.4" height="2.4" rx="0.54" fill="#72dc5a"/>
<rect x="466.58" y="126.30" width="2.4" height="2.4" rx="0.54" fill="#72dc5a"/>
<rect x="471.41" y="126.30" width="2.4" height="2.4" rx="0.54" fill="#72dc5a"/>
<rect x="476.24" y="126.30" width="2.4" height="2.4" rx="0.54" fill="#72dc5a"/>
<rect x="481.08" y="126.30" width="2.4" height="2.4" rx="0.54" fill="#72dc5a"/>
<rect x="485.91" y="126.30" width="2.4" height="2.4" rx="0.54" fill="#72dc5a"/>
<rect x="490.74" y="126.30" width="2.4" height="2.4" rx="0.54" fill="#72dc5a"/>
<rect x="495.57" y="126.30" width="2.4" height="2.4" rx="0.54" fill="#72dc5a"/>
<rect x="500.40" y="126.30" width="2.4" height="2.4" rx="0.54" fill="#72dc5a"/>
<rect x="505.24" y="126.30" width="2.4" height="2.4" rx="0.54" fill="#72dc5a"/>
<rect x="510.07" y="126.30" width="2.4" height="2.4" rx="0.54" fill="#72dc5a"/>
<rect x="514.90" y="126.30" width="2.4" height="2.4" rx="0.54" fill="#72dc5a"/>
<polyline points="32.90,127.50 37.73,127.50 42.56,127.50 47.40,127.50 52.23,127.50 57.06,127.50 61.89,127.50 66.72,127.50 71.56,127.50 76.39,127.50 81.22,127.50 86.05,127.50 90.88,127.50 95.72,127.50 100.55,127.50 105.38,127.50 110.21,127.50 115.04,127.50 119.88,127.50 124.71,127.50 129.54,127.50 134.37,127.50 139.20,127.50 144.04,127.50 148.87,127.50 153.70,127.50 158.53,127.50 163.36,127.50 168.20,127.50 173.03,127.50 177.86,127.50 182.69,127.50 187.52,127.50 192.36,127.50 197.19,127.50 202.02,127.50 206.85,127.50 211.68,127.50 216.52,126.92 221.35,125.56 226.18,123.81 231.01,122.84 235.84,120.52 240.68,117.41 245.51,111.20 250.34,108.49 255.17,104.22 260.00,101.12 264.84,99.18 269.67,94.13 274.50,99.18 279.33,99.95 284.16,106.94 289.00,106.16 293.83,108.49 298.66,110.43 303.49,113.14 308.32,115.47 313.16,118.19 317.99,120.52 322.82,122.07 327.65,123.23 332.48,123.81 337.32,124.40 342.15,124.40 346.98,125.17 351.81,125.95 356.64,126.34 361.48,126.72 366.31,127.11 371.14,127.50 375.97,127.50 380.80,127.50 385.64,127.50 390.47,127.50 395.30,127.50 400.13,127.50 404.96,127.50 409.80,127.50 414.63,127.50 419.46,127.50 424.29,127.50 429.12,127.50 433.96,127.50 438.79,127.50 443.62,127.50 448.45,127.50 453.28,127.50 458.12,127.50 462.95,127.50 467.78,127.50 472.61,127.50 477.44,127.50 482.28,127.50 487.11,127.50 491.94,127.50 496.77,127.50 501.60,127.50 506.44,127.50 511.27,127.50 516.10,127.50" fill="none" stroke="#e88a40" stroke-width="1" stroke-linejoin="round"/>
<path d="M32.90 126.30L34.10 128.70L31.70 128.70Z" fill="#e88a40"/>
<path d="M37.73 126.30L38.93 128.70L36.53 128.70Z" fill="#e88a40"/>
<path d="M42.56 126.30L43.76 128.70L41.36 128.70Z" fill="#e88a40"/>
<path d="M47.40 126.30L48.60 128.70L46.20 128.70Z" fill="#e88a40"/>
<path d="M52.23 126.30L53.43 128.70L51.03 128.70Z" fill="#e88a40"/>
<path d="M57.06 126.30L58.26 128.70L55.86 128.70Z" fill="#e88a40"/>
<path d="M61.89 126.30L63.09 128.70L60.69 128.70Z" fill="#e88a40"/>
<path d="M66.72 126.30L67.92 128.70L65.52 128.70Z" fill="#e88a40"/>
<path d="M71.56 126.30L72.76 128.70L70.36 128.70Z" fill="#e88a40"/>
<path d="M76.39 126.30L77.59 128.70L75.19 128.70Z" fill="#e88a40"/>
<path d="M81.22 126.30L82.42 128.70L80.02 128.70Z" fill="#e88a40"/>
<path d="M86.05 126.30L87.25 128.70L84.85 128.70Z" fill="#e88a40"/>
<path d="M90.88 126.30L92.08 128.70L89.68 128.70Z" fill="#e88a40"/>
<path d="M95.72 126.30L96.92 128.70L94.52 128.70Z" fill="#e88a40"/>
<path d="M100.55 126.30L101.75 128.70L99.35 128.70Z" fill="#e88a40"/>
<path d="M105.38 126.30L106.58 128.70L104.18 128.70Z" fill="#e88a40"/>
<path d="M110.21 126.30L111.41 128.70L109.01 128.70Z" fill="#e88a40"/>
<path d="M115.04 126.30L116.24 128.70L113.84 128.70Z" fill="#e88a40"/>
<path d="M119.88 126.30L121.08 128.70L118.68 128.70Z" fill="#e88a40"/>
<path d="M124.71 126.30L125.91 128.70L123.51 128.70Z" fill="#e88a40"/>
<path d="M129.54 126.30L130.74 128.70L128.34 128.70Z" fill="#e88a40"/>
<path d="M134.37 126.30L135.57 128.70L133.17 128.70Z" fill="#e88a40"/>
<path d="M139.20 126.30L140.40 128.70L138.00 128.70Z" fill="#e88a40"/>
<path d="M144.04 126.30L145.24 128.70L142.84 128.70Z" fill="#e88a40"/>
<path d="M148.87 126.30L150.07 128.70L147.67 128.70Z" fill="#e88a40"/>
<path d="M153.70 126.30L154.90 128.70L152.50 128.70Z" fill="#e88a40"/>
<path d="M158.53 126.30L159.73 128.70L157.33 128.70Z" fill="#e88a40"/>
<path d="M163.36 126.30L164.56 128.70L162.16 128.70Z" fill="#e88a40"/>
<path d="M168.20 126.30L169.40 128.70L167.00 128.70Z" fill="#e88a40"/>
<path d="M173.03 126.30L174.23 128.70L171.83 128.70Z" fill="#e88a40"/>
<path d="M177.86 126.30L179.06 128.70L176.66 128.70Z" fill="#e88a40"/>
<path d="M182.69 126.30L183.89 128.70L181.49 128.70Z" fill="#e88a40"/>
<path d="M187.52 126.30L188.72 128.70L186.32 128.70Z" fill="#e88a40"/>
<path d="M192.36 126.30L193.56 128.70L191.16 128.70Z" fill="#e88a40"/>
<path d="M197.19 126.30L198.39 128.70L195.99 128.70Z" fill="#e88a40"/>
<path d="M202.02 126.30L203.22 128.70L200.82 128.70Z" fill="#e88a40"/>
<path d="M206.85 126.30L208.05 128.70L205.65 128.70Z" fill="#e88a40"/>
<path d="M211.68 126.30L212.88 128.70L210.48 128.70Z" fill="#e88a40"/>
<path d="M216.52 125.72L217.72 128.12L215.32 128.12Z" fill="#e88a40"/>
<path d="M221.35 124.36L222.55 126.76L220.15 126.76Z" fill="#e88a40"/>
<path d="M226.18 122.61L227.38 125.01L224.98 125.01Z" fill="#e88a40"/>
<path d="M231.01 121.64L232.21 124.04L229.81 124.04Z" fill="#e88a40"/>
<path d="M235.84 119.32L237.04 121.72L234.64 121.72Z" fill="#e88a40"/>
<path d="M240.68 116.21L241.88 118.61L239.48 118.61Z" fill="#e88a40"/>
<path d="M245.51 110.00L246.71 112.40L244.31 112.40Z" fill="#e88a40"/>
<path d="M250.34 107.29L251.54 109.69L249.14 109.69Z" fill="#e88a40"/>
<path d="M255.17 103.02L256.37 105.42L253.97 105.42Z" fill="#e88a40"/>
<path d="M260.00 99.92L261.20 102.32L258.80 102.32Z" fill="#e88a40"/>
<path d="M264.84 97.98L266.04 100.38L263.64 100.38Z" fill="#e88a40"/>
<path d="M269.67 92.93L270.87 95.33L268.47 95.33Z" fill="#e88a40"/>
<path d="M274.50 97.98L275.70 100.38L273.30 100.38Z" fill="#e88a40"/>
<path d="M279.33 98.75L280.53 101.15L278.13 101.15Z" fill="#e88a40"/>
<path d="M284.16 105.74L285.36 108.14L282.96 108.14Z" fill="#e88a40"/>
<path d="M289.00 104.96L290.20 107.36L287.80 107.36Z" fill="#e88a40"/>
<path d="M293.83 107.29L295.03 109.69L292.63 109.69Z" fill="#e88a40"/>
<path d="M298.66 109.23L299.86 111.63L297.46 111.63Z" fill="#e88a40"/>
<path d="M303.49 111.94L304.69 114.34L302.29 114.34Z" fill="#e88a40"/>
<path d="M308.32 114.27L309.52 116.67L307.12 116.67Z" fill="#e88a40"/>
<path d="M313.16 116.99L314.36 119.39L311.96 119.39Z" fill="#e88a40"/>
<path d="M317.99 119.32L319.19 121.72L316.79 121.72Z" fill="#e88a40"/>
<path d="M322.82 120.87L324.02 123.27L321.62 123.27Z" fill="#e88a40"/>
<path d="M327.65 122.03L328.85 124.43L326.45 124.43Z" fill="#e88a40"/>
<path d="M332.48 122.61L333.68 125.01L331.28 125.01Z" fill="#e88a40"/>
<path d="M337.32 123.20L338.52 125.60L336.12 125.60Z" fill="#e88a40"/>
<path d="M342.15 123.20L343.35 125.60L340.95 125.60Z" fill="#e88a40"/>
<path d="M346.98 123.97L348.18 126.37L345.78 126.37Z" fill="#e88a40"/>
<path d="M351.81 124.75L353.01 127.15L350.61 127.15Z" fill="#e88a40"/>
<path d="M356.64 125.14L357.84 127.54L355.44 127.54Z" fill="#e88a40"/>
<path d="M361.48 125.52L362.68 127.92L360.28 127.92Z" fill="#e88a40"/>
<path d="M366.31 125.91L367.51 128.31L365.11 128.31Z" fill="#e88a40"/>
<path d="M371.14 126.30L372.34 128.70L369.94 128.70Z" fill="#e88a40"/>
<path d="M375.97 126.30L377.17 128.70L374.77 128.70Z" fill="#e88a40"/>
<path d="M380.80 126.30L382.00 128.70L379.60 128.70Z" fill="#e88a40"/>
<path d="M385.64 126.30L386.84 128.70L384.44 128.70Z" fill="#e88a40"/>
<path d="M390.47 126.30L391.67 128.70L389.27 128.70Z" fill="#e88a40"/>
<path d="M395.30 126.30L396.50 128.70L394.10 128.70Z" fill="#e88a40"/>
<path d="M400.13 126.30L401.33 128.70L398.93 128.70Z" fill="#e88a40"/>
<path d="M404.96 126.30L406.16 128.70L403.76 128.70Z" fill="#e88a40"/>
<path d="M409.80 126.30L411.00 128.70L408.60 128.70Z" fill="#e88a40"/>
<path d="M414.63 126.30L415.83 128.70L413.43 128.70Z" fill="#e88a40"/>
<path d="M419.46 126.30L420.66 128.70L418.26 128.70Z" fill="#e88a40"/>
<path d="M424.29 126.30L425.49 128.70L423.09 128.70Z" fill="#e88a40"/>
<path d="M429.12 126.30L430.32 128.70L427.92 128.70Z" fill="#e88a40"/>
<path d="M433.96 126.30L435.16 128.70L432.76 128.70Z" fill="#e88a40"/>
<path d="M438.79 126.30L439.99 128.70L437.59 128.70Z" fill="#e88a40"/>
<path d="M443.62 126.30L444.82 128.70L442.42 128.70Z" fill="#e88a40"/>
<path d="M448.45 126.30L449.65 128.70L447.25 128.70Z" fill="#e88a40"/>
<path d="M453.28 126.30L454.48 128.70L452.08 128.70Z" fill="#e88a40"/>
<path d="M458.12 126.30L459.32 128.70L456.92 128.70Z" fill="#e88a40"/>
<path d="M462.95 126.30L464.15 128.70L461.75 128.70Z" fill="#e88a40"/>
<path d="M467.78 126.30L468.98 128.70L466.58 128.70Z" fill="#e88a40"/>
<path d="M472.61 126.30L473.81 128.70L471.41 128.70Z" fill="#e88a40"/>
<path d="M477.44 126.30L478.64 128.70L476.24 128.70Z" fill="#e88a40"/>
<path d="M482.28 126.30L483.48 128.70L481.08 128.70Z" fill="#e88a40"/>
<path d="M487.11 126.30L488.31 128.70L485.91 128.70Z" fill="#e88a40"/>
<path d="M491.94 126.30L493.14 128.70L490.74 128.70Z" fill="#e88a40"/>
<path d="M496.77 126.30L497.97 128.70L495.57 128.70Z" fill="#e88a40"/>
<path d="M501.60 126.30L502.80 128.70L500.40 128.70Z" fill="#e88a40"/>
<path d="M506.44 126.30L507.64 128.70L505.24 128.70Z" fill="#e88a40"/>
<path d="M511.27 126.30L512.47 128.70L510.07 128.70Z" fill="#e88a40"/>
<path d="M516.10 126.30L517.30 128.70L514.90 128.70Z" fill="#e88a40"/>
<polyline points="32.90,127.50 37.73,127.50 42.56,127.50 47.40,127.50 52.23,127.50 57.06,127.50 61.89,127.50 66.72,127.50 71.56,127.50 76.39,127.50 81.22,127.50 86.05,127.50 90.88,127.50 95.72,127.50 100.55,127.50 105.38,127.50 110.21,127.50 115.04,127.50 119.88,127.50 124.71,127.50 129.54,127.50 134.37,127.50 139.20,127.50 144.04,127.50 148.87,127.50 153.70,127.50 158.53,127.50 163.36,127.50 168.20,127.50 173.03,127.50 177.86,127.50 182.69,127.50 187.52,127.50 192.36,127.11 197.19,126.72 202.02,125.95 206.85,125.17 211.68,123.81 216.52,123.23 221.35,122.46 226.18,119.35 231.01,117.80 235.84,116.64 240.68,111.59 245.51,107.32 250.34,108.88 255.17,106.94 260.00,105.38 264.84,104.61 269.67,105.38 274.50,106.55 279.33,108.49 284.16,110.43 289.00,109.26 293.83,109.65 298.66,110.43 303.49,112.37 308.32,113.53 313.16,114.70 317.99,117.41 322.82,118.58 327.65,119.35 332.48,121.29 337.32,123.23 342.15,123.23 346.98,124.40 351.81,125.17 356.64,125.17 361.48,125.56 366.31,125.95 371.14,126.34 375.97,126.72 380.80,127.11 385.64,127.50 390.47,127.50 395.30,127.50 400.13,127.50 404.96,127.50 409.80,127.50 414.63,127.50 419.46,127.50 424.29,127.50 429.12,127.50 433.96,127.50 438.79,127.50 443.62,127.50 448.45,127.50 453.28,127.50 458.12,127.50 462.95,127.50 467.78,127.50 472.61,127.50 477.44,127.50 482.28,127.50 487.11,127.50 491.94,127.50 496.77,127.50 501.60,127.50 506.44,127.50 511.27,127.50 516.10,127.50" fill="none" stroke="#5458cc" stroke-width="1" stroke-linejoin="round"/>
<path d="M31.60 126.20L34.20 126.20L32.90 128.80Z" fill="#5458cc"/>
<path d="M36.43 126.20L39.03 126.20L37.73 128.80Z" fill="#5458cc"/>
<path d="M41.26 126.20L43.86 126.20L42.56 128.80Z" fill="#5458cc"/>
<path d="M46.10 126.20L48.70 126.20L47.40 128.80Z" fill="#5458cc"/>
<path d="M50.93 126.20L53.53 126.20L52.23 128.80Z" fill="#5458cc"/>
<path d="M55.76 126.20L58.36 126.20L57.06 128.80Z" fill="#5458cc"/>
<path d="M60.59 126.20L63.19 126.20L61.89 128.80Z" fill="#5458cc"/>
<path d="M65.42 126.20L68.02 126.20L66.72 128.80Z" fill="#5458cc"/>
<path d="M70.26 126.20L72.86 126.20L71.56 128.80Z" fill="#5458cc"/>
<path d="M75.09 126.20L77.69 126.20L76.39 128.80Z" fill="#5458cc"/>
<path d="M79.92 126.20L82.52 126.20L81.22 128.80Z" fill="#5458cc"/>
<path d="M84.75 126.20L87.35 126.20L86.05 128.80Z" fill="#5458cc"/>
<path d="M89.58 126.20L92.18 126.20L90.88 128.80Z" fill="#5458cc"/>
<path d="M94.42 126.20L97.02 126.20L95.72 128.80Z" fill="#5458cc"/>
<path d="M99.25 126.20L101.85 126.20L100.55 128.80Z" fill="#5458cc"/>
<path d="M104.08 126.20L106.68 126.20L105.38 128.80Z" fill="#5458cc"/>
<path d="M108.91 126.20L111.51 126.20L110.21 128.80Z" fill="#5458cc"/>
<path d="M113.74 126.20L116.34 126.20L115.04 128.80Z" fill="#5458cc"/>
<path d="M118.58 126.20L121.18 126.20L119.88 128.80Z" fill="#5458cc"/>
<path d="M123.41 126.20L126.01 126.20L124.71 128.80Z" fill="#5458cc"/>
<path d="M128.24 126.20L130.84 126.20L129.54 128.80Z" fill="#5458cc"/>
<path d="M133.07 126.20L135.67 126.20L134.37 128.80Z" fill="#5458cc"/>
<path d="M137.90 126.20L140.50 126.20L139.20 128.80Z" fill="#5458cc"/>
<path d="M142.74 126.20L145.34 126.20L144.04 128.80Z" fill="#5458cc"/>
<path d="M147.57 126.20L150.17 126.20L148.87 128.80Z" fill="#5458cc"/>
<path d="M152.40 126.20L155.00 126.20L153.70 128.80Z" fill="#5458cc"/>
<path d="M157.23 126.20L159.83 126.20L158.53 128.80Z" fill="#5458cc"/>
<path d="M162.06 126.20L164.66 126.20L163.36 128.80Z" fill="#5458cc"/>
<path d="M166.90 126.20L169.50 126.20L168.20 128.80Z" fill="#5458cc"/>
<path d="M171.73 126.20L174.33 126.20L173.03 128.80Z" fill="#5458cc"/>
<path d="M176.56 126.20L179.16 126.20L177.86 128.80Z" fill="#5458cc"/>
<path d="M181.39 126.20L183.99 126.20L182.69 128.80Z" fill="#5458cc"/>
<path d="M186.22 126.20L188.82 126.20L187.52 128.80Z" fill="#5458cc"/>
<path d="M191.06 125.81L193.66 125.81L192.36 128.41Z" fill="#5458cc"/>
<path d="M195.89 125.42L198.49 125.42L197.19 128.02Z" fill="#5458cc"/>
<path d="M200.72 124.65L203.32 124.65L202.02 127.25Z" fill="#5458cc"/>
<path d="M205.55 123.87L208.15 123.87L206.85 126.47Z" fill="#5458cc"/>
<path d="M210.38 122.51L212.98 122.51L211.68 125.11Z" fill="#5458cc"/>
<path d="M215.22 121.93L217.82 121.93L216.52 124.53Z" fill="#5458cc"/>
<path d="M220.05 121.16L222.65 121.16L221.35 123.76Z" fill="#5458cc"/>
<path d="M224.88 118.05L227.48 118.05L226.18 120.65Z" fill="#5458cc"/>
<path d="M229.71 116.50L232.31 116.50L231.01 119.10Z" fill="#5458cc"/>
<path d="M234.54 115.34L237.14 115.34L235.84 117.94Z" fill="#5458cc"/>
<path d="M239.38 110.29L241.98 110.29L240.68 112.89Z" fill="#5458cc"/>
<path d="M244.21 106.02L246.81 106.02L245.51 108.62Z" fill="#5458cc"/>
<path d="M249.04 107.58L251.64 107.58L250.34 110.18Z" fill="#5458cc"/>
<path d="M253.87 105.64L256.47 105.64L255.17 108.24Z" fill="#5458cc"/>
<path d="M258.70 104.08L261.30 104.08L260.00 106.68Z" fill="#5458cc"/>
<path d="M263.54 103.31L266.14 103.31L264.84 105.91Z" fill="#5458cc"/>
<path d="M268.37 104.08L270.97 104.08L269.67 106.68Z" fill="#5458cc"/>
<path d="M273.20 105.25L275.80 105.25L274.50 107.85Z" fill="#5458cc"/>
<path d="M278.03 107.19L280.63 107.19L279.33 109.79Z" fill="#5458cc"/>
<path d="M282.86 109.13L285.46 109.13L284.16 111.73Z" fill="#5458cc"/>
<path d="M287.70 107.96L290.30 107.96L289.00 110.56Z" fill="#5458cc"/>
<path d="M292.53 108.35L295.13 108.35L293.83 110.95Z" fill="#5458cc"/>
<path d="M297.36 109.13L299.96 109.13L298.66 111.73Z" fill="#5458cc"/>
<path d="M302.19 111.07L304.79 111.07L303.49 113.67Z" fill="#5458cc"/>
<path d="M307.02 112.23L309.62 112.23L308.32 114.83Z" fill="#5458cc"/>
<path d="M311.86 113.40L314.46 113.40L313.16 116.00Z" fill="#5458cc"/>
<path d="M316.69 116.11L319.29 116.11L317.99 118.71Z" fill="#5458cc"/>
<path d="M321.52 117.28L324.12 117.28L322.82 119.88Z" fill="#5458cc"/>
<path d="M326.35 118.05L328.95 118.05L327.65 120.65Z" fill="#5458cc"/>
<path d="M331.18 119.99L333.78 119.99L332.48 122.59Z" fill="#5458cc"/>
<path d="M336.02 121.93L338.62 121.93L337.32 124.53Z" fill="#5458cc"/>
<path d="M340.85 121.93L343.45 121.93L342.15 124.53Z" fill="#5458cc"/>
<path d="M345.68 123.10L348.28 123.10L346.98 125.70Z" fill="#5458cc"/>
<path d="M350.51 123.87L353.11 123.87L351.81 126.47Z" fill="#5458cc"/>
<path d="M355.34 123.87L357.94 123.87L356.64 126.47Z" fill="#5458cc"/>
<path d="M360.18 124.26L362.78 124.26L361.48 126.86Z" fill="#5458cc"/>
<path d="M365.01 124.65L367.61 124.65L366.31 127.25Z" fill="#5458cc"/>
<path d="M369.84 125.04L372.44 125.04L371.14 127.64Z" fill="#5458cc"/>
<path d="M374.67 125.42L377.27 125.42L375.97 128.02Z" fill="#5458cc"/>
<path d="M379.50 125.81L382.10 125.81L380.80 128.41Z" fill="#5458cc"/>
<path d="M384.34 126.20L386.94 126.20L385.64 128.80Z" fill="#5458cc"/>
<path d="M389.17 126.20L391.77 126.20L390.47 128.80Z" fill="#5458cc"/>
<path d="M394.00 126.20L396.60 126.20L395.30 128.80Z" fill="#5458cc"/>
<path d="M398.83 126.20L401.43 126.20L400.13 128.80Z" fill="#5458cc"/>
<path d="M403.66 126.20L406.26 126.20L404.96 128.80Z" fill="#5458cc"/>
<path d="M408.50 126.20L411.10 126.20L409.80 128.80Z" fill="#5458cc"/>
<path d="M413.33 126.20L415.93 126.20L414.63 128.80Z" fill="#5458cc"/>
<path d="M418.16 126.20L420.76 126.20L419.46 128.80Z" fill="#5458cc"/>
<path d="M422.99 126.20L425.59 126.20L424.29 128.80Z" fill="#5458cc"/>
<path d="M427.82 126.20L430.42 126.20L429.12 128.80Z" fill="#5458cc"/>
<path d="M432.66 126.20L435.26 126.20L433.96 128.80Z" fill="#5458cc"/>
<path d="M437.49 126.20L440.09 126.20L438.79 128.80Z" fill="#5458cc"/>
<path d="M442.32 126.20L444.92 126.20L443.62 128.80Z" fill="#5458cc"/>
<path d="M447.15 126.20L449.75 126.20L448.45 128.80Z" fill="#5458cc"/>
<path d="M451.98 126.20L454.58 126.20L453.28 128.80Z" fill="#5458cc"/>
<path d="M456.82 126.20L459.42 126.20L458.12 128.80Z" fill="#5458cc"/>
<path d="M461.65 126.20L464.25 126.20L462.95 128.80Z" fill="#5458cc"/>
<path d="M466.48 126.20L469.08 126.20L467.78 128.80Z" fill="#5458cc"/>
<path d="M471.31 126.20L473.91 126.20L472.61 128.80Z" fill="#5458cc"/>
<path d="M476.14 126.20L478.74 126.20L477.44 128.80Z" fill="#5458cc"/>
<path d="M480.98 126.20L483.58 126.20L482.28 128.80Z" fill="#5458cc"/>
<path d="M485.81 126.20L488.41 126.20L487.11 128.80Z" fill="#5458cc"/>
<path d="M490.64 126.20L493.24 126.20L491.94 128.80Z" fill="#5458cc"/>
<path d="M495.47 126.20L498.07 126.20L496.77 128.80Z" fill="#5458cc"/>
<path d="M500.30 126.20L502.90 126.20L501.60 128.80Z" fill="#5458cc"/>
<path d="M505.14 126.20L507.74 126.20L506.44 128.80Z" fill="#5458cc"/>
<path d="M509.97 126.20L512.57 126.20L511.27 128.80Z" fill="#5458cc"/>
<path d="M514.80 126.20L517.40 126.20L516.10 128.80Z" fill="#5458cc"/>
<polyline points="32.90,127.50 37.73,127.50 42.56,127.50 47.40,127.50 52.23,127.50 57.06,127.50 61.89,127.50 66.72,127.50 71.56,127.50 76.39,127.50 81.22,127.50 86.05,127.50 90.88,127.50 95.72,127.50 100.55,127.50 105.38,127.50 110.21,127.50 115.04,127.50 119.88,127.50 124.71,127.50 129.54,127.50 134.37,127.50 139.20,127.50 144.04,127.50 148.87,127.50 153.70,127.50 158.53,127.50 163.36,127.50 168.20,127.50 173.03,127.50 177.86,127.50 182.69,127.50 187.52,127.50 192.36,127.50 197.19,127.50 202.02,127.50 206.85,127.50 211.68,127.50 216.52,127.50 221.35,127.50 226.18,127.50 231.01,127.50 235.84,127.50 240.68,127.50 245.51,127.50 250.34,127.50 255.17,127.50 260.00,127.50 264.84,127.50 269.67,127.50 274.50,127.50 279.33,127.50 284.16,127.50 289.00,127.50 293.83,127.50 298.66,127.50 303.49,127.50 308.32,127.50 313.16,127.50 317.99,127.50 322.82,127.50 327.65,127.50 332.48,127.50 337.32,127.50 342.15,127.50 346.98,127.50 351.81,127.50 356.64,127.50 361.48,127.11 366.31,126.72 371.14,125.95 375.97,124.78 380.80,122.84 385.64,121.68 390.47,119.74 395.30,117.80 400.13,111.98 404.96,106.55 409.80,101.50 414.63,94.91 419.46,93.36 424.29,88.12 429.12,91.80 433.96,94.52 438.79,97.62 443.62,103.64 448.45,105.77 453.28,113.92 458.12,115.08 462.95,120.71 467.78,124.01 472.61,125.95 477.44,126.72 482.28,127.11 487.11,127.50 491.94,127.50 496.77,127.50 501.60,127.50 506.44,127.50 511.27,127.50 516.10,127.50" fill="none" stroke="#db3b6b" stroke-width="1" stroke-linejoin="round"/>
<circle cx="32.90" cy="127.50" r="1.4" fill="#db3b6b"/>
<circle cx="37.73" cy="127.50" r="1.4" fill="#db3b6b"/>
<circle cx="42.56" cy="127.50" r="1.4" fill="#db3b6b"/>
<circle cx="47.40" cy="127.50" r="1.4" fill="#db3b6b"/>
<circle cx="52.23" cy="127.50" r="1.4" fill="#db3b6b"/>
<circle cx="57.06" cy="127.50" r="1.4" fill="#db3b6b"/>
<circle cx="61.89" cy="127.50" r="1.4" fill="#db3b6b"/>
<circle cx="66.72" cy="127.50" r="1.4" fill="#db3b6b"/>
<circle cx="71.56" cy="127.50" r="1.4" fill="#db3b6b"/>
<circle cx="76.39" cy="127.50" r="1.4" fill="#db3b6b"/>
<circle cx="81.22" cy="127.50" r="1.4" fill="#db3b6b"/>
<circle cx="86.05" cy="127.50" r="1.4" fill="#db3b6b"/>
<circle cx="90.88" cy="127.50" r="1.4" fill="#db3b6b"/>
<circle cx="95.72" cy="127.50" r="1.4" fill="#db3b6b"/>
<circle cx="100.55" cy="127.50" r="1.4" fill="#db3b6b"/>
<circle cx="105.38" cy="127.50" r="1.4" fill="#db3b6b"/>
<circle cx="110.21" cy="127.50" r="1.4" fill="#db3b6b"/>
<circle cx="115.04" cy="127.50" r="1.4" fill="#db3b6b"/>
<circle cx="119.88" cy="127.50" r="1.4" fill="#db3b6b"/>
<circle cx="124.71" cy="127.50" r="1.4" fill="#db3b6b"/>
<circle cx="129.54" cy="127.50" r="1.4" fill="#db3b6b"/>
<circle cx="134.37" cy="127.50" r="1.4" fill="#db3b6b"/>
<circle cx="139.20" cy="127.50" r="1.4" fill="#db3b6b"/>
<circle cx="144.04" cy="127.50" r="1.4" fill="#db3b6b"/>
<circle cx="148.87" cy="127.50" r="1.4" fill="#db3b6b"/>
<circle cx="153.70" cy="127.50" r="1.4" fill="#db3b6b"/>
<circle cx="158.53" cy="127.50" r="1.4" fill="#db3b6b"/>
<circle cx="163.36" cy="127.50" r="1.4" fill="#db3b6b"/>
<circle cx="168.20" cy="127.50" r="1.4" fill="#db3b6b"/>
<circle cx="173.03" cy="127.50" r="1.4" fill="#db3b6b"/>
<circle cx="177.86" cy="127.50" r="1.4" fill="#db3b6b"/>
<circle cx="182.69" cy="127.50" r="1.4" fill="#db3b6b"/>
<circle cx="187.52" cy="127.50" r="1.4" fill="#db3b6b"/>
<circle cx="192.36" cy="127.50" r="1.4" fill="#db3b6b"/>
<circle cx="197.19" cy="127.50" r="1.4" fill="#db3b6b"/>
<circle cx="202.02" cy="127.50" r="1.4" fill="#db3b6b"/>
<circle cx="206.85" cy="127.50" r="1.4" fill="#db3b6b"/>
<circle cx="211.68" cy="127.50" r="1.4" fill="#db3b6b"/>
<circle cx="216.52" cy="127.50" r="1.4" fill="#db3b6b"/>
<circle cx="221.35" cy="127.50" r="1.4" fill="#db3b6b"/>
<circle cx="226.18" cy="127.50" r="1.4" fill="#db3b6b"/>
<circle cx="231.01" cy="127.50" r="1.4" fill="#db3b6b"/>
<circle cx="235.84" cy="127.50" r="1.4" fill="#db3b6b"/>
<circle cx="240.68" cy="127.50" r="1.4" fill="#db3b6b"/>
<circle cx="245.51" cy="127.50" r="1.4" fill="#db3b6b"/>
<circle cx="250.34" cy="127.50" r="1.4" fill="#db3b6b"/>
<circle cx="255.17" cy="127.50" r="1.4" fill="#db3b6b"/>
<circle cx="260.00" cy="127.50" r="1.4" fill="#db3b6b"/>
<circle cx="264.84" cy="127.50" r="1.4" fill="#db3b6b"/>
<circle cx="269.67" cy="127.50" r="1.4" fill="#db3b6b"/>
<circle cx="274.50" cy="127.50" r="1.4" fill="#db3b6b"/>
<circle cx="279.33" cy="127.50" r="1.4" fill="#db3b6b"/>
<circle cx="284.16" cy="127.50" r="1.4" fill="#db3b6b"/>
<circle cx="289.00" cy="127.50" r="1.4" fill="#db3b6b"/>
<circle cx="293.83" cy="127.50" r="1.4" fill="#db3b6b"/>
<circle cx="298.66" cy="127.50" r="1.4" fill="#db3b6b"/>
<circle cx="303.49" cy="127.50" r="1.4" fill="#db3b6b"/>
<circle cx="308.32" cy="127.50" r="1.4" fill="#db3b6b"/>
<circle cx="313.16" cy="127.50" r="1.4" fill="#db3b6b"/>
<circle cx="317.99" cy="127.50" r="1.4" fill="#db3b6b"/>
<circle cx="322.82" cy="127.50" r="1.4" fill="#db3b6b"/>
<circle cx="327.65" cy="127.50" r="1.4" fill="#db3b6b"/>
<circle cx="332.48" cy="127.50" r="1.4" fill="#db3b6b"/>
<circle cx="337.32" cy="127.50" r="1.4" fill="#db3b6b"/>
<circle cx="342.15" cy="127.50" r="1.4" fill="#db3b6b"/>
<circle cx="346.98" cy="127.50" r="1.4" fill="#db3b6b"/>
<circle cx="351.81" cy="127.50" r="1.4" fill="#db3b6b"/>
<circle cx="356.64" cy="127.50" r="1.4" fill="#db3b6b"/>
<circle cx="361.48" cy="127.11" r="1.4" fill="#db3b6b"/>
<circle cx="366.31" cy="126.72" r="1.4" fill="#db3b6b"/>
<circle cx="371.14" cy="125.95" r="1.4" fill="#db3b6b"/>
<circle cx="375.97" cy="124.78" r="1.4" fill="#db3b6b"/>
<circle cx="380.80" cy="122.84" r="1.4" fill="#db3b6b"/>
<circle cx="385.64" cy="121.68" r="1.4" fill="#db3b6b"/>
<circle cx="390.47" cy="119.74" r="1.4" fill="#db3b6b"/>
<circle cx="395.30" cy="117.80" r="1.4" fill="#db3b6b"/>
<circle cx="400.13" cy="111.98" r="1.4" fill="#db3b6b"/>
<circle cx="404.96" cy="106.55" r="1.4" fill="#db3b6b"/>
<circle cx="409.80" cy="101.50" r="1.4" fill="#db3b6b"/>
<circle cx="414.63" cy="94.91" r="1.4" fill="#db3b6b"/>
<circle cx="419.46" cy="93.36" r="1.4" fill="#db3b6b"/>
<circle cx="424.29" cy="88.12" r="1.4" fill="#db3b6b"/>
<circle cx="429.12" cy="91.80" r="1.4" fill="#db3b6b"/>
<circle cx="433.96" cy="94.52" r="1.4" fill="#db3b6b"/>
<circle cx="438.79" cy="97.62" r="1.4" fill="#db3b6b"/>
<circle cx="443.62" cy="103.64" r="1.4" fill="#db3b6b"/>
<circle cx="448.45" cy="105.77" r="1.4" fill="#db3b6b"/>
<circle cx="453.28" cy="113.92" r="1.4" fill="#db3b6b"/>
<circle cx="458.12" cy="115.08" r="1.4" fill="#db3b6b"/>
<circle cx="462.95" cy="120.71" r="1.4" fill="#db3b6b"/>
<circle cx="467.78" cy="124.01" r="1.4" fill="#db3b6b"/>
<circle cx="472.61" cy="125.95" r="1.4" fill="#db3b6b"/>
<circle cx="477.44" cy="126.72" r="1.4" fill="#db3b6b"/>
<circle cx="482.28" cy="127.11" r="1.4" fill="#db3b6b"/>
<circle cx="487.11" cy="127.50" r="1.4" fill="#db3b6b"/>
<circle cx="491.94" cy="127.50" r="1.4" fill="#db3b6b"/>
<circle cx="496.77" cy="127.50" r="1.4" fill="#db3b6b"/>
<circle cx="501.60" cy="127.50" r="1.4" fill="#db3b6b"/>
<circle cx="506.44" cy="127.50" r="1.4" fill="#db3b6b"/>
<circle cx="511.27" cy="127.50" r="1.4" fill="#db3b6b"/>
<circle cx="516.10" cy="127.50" r="1.4" fill="#db3b6b"/>
<polyline points="32.90,127.50 37.73,127.50 42.56,127.50 47.40,127.50 52.23,127.50 57.06,127.50 61.89,127.50 66.72,127.50 71.56,127.50 76.39,127.50 81.22,127.50 86.05,127.50 90.88,127.50 95.72,127.50 100.55,127.50 105.38,127.50 110.21,127.50 115.04,127.50 119.88,127.50 124.71,127.50 129.54,127.50 134.37,127.50 139.20,127.50 144.04,127.50 148.87,127.50 153.70,127.50 158.53,127.50 163.36,127.50 168.20,127.50 173.03,127.50 177.86,127.50 182.69,127.50 187.52,127.50 192.36,127.50 197.19,127.50 202.02,127.50 206.85,127.50 211.68,127.50 216.52,127.50 221.35,127.50 226.18,127.50 231.01,127.50 235.84,127.50 240.68,127.50 245.51,127.50 250.34,127.50 255.17,127.50 260.00,127.50 264.84,127.50 269.67,127.50 274.50,127.50 279.33,127.50 284.16,127.50 289.00,127.50 293.83,127.50 298.66,127.50 303.49,127.50 308.32,127.50 313.16,127.50 317.99,127.50 322.82,127.50 327.65,127.50 332.48,127.50 337.32,127.50 342.15,127.50 346.98,127.50 351.81,127.50 356.64,127.50 361.48,127.50 366.31,127.50 371.14,127.50 375.97,127.11 380.80,127.11 385.64,126.72 390.47,126.34 395.30,125.95 400.13,125.95 404.96,125.56 409.80,124.40 414.63,122.46 419.46,119.74 424.29,115.86 429.12,110.82 433.96,103.44 438.79,94.52 443.62,85.98 448.45,79.78 453.28,79.00 458.12,75.51 462.95,87.92 467.78,103.83 472.61,115.08 477.44,122.07 482.28,125.17 487.11,126.72 491.94,127.50 496.77,127.50 501.60,127.50 506.44,127.50 511.27,127.50 516.10,127.50" fill="none" stroke="#e2cf44" stroke-width="1" stroke-linejoin="round"/>
<path d="M32.90 126.40L34.00 127.50L32.90 128.60L31.80 127.50Z" fill="#e2cf44"/>
<path d="M37.73 126.40L38.83 127.50L37.73 128.60L36.63 127.50Z" fill="#e2cf44"/>
<path d="M42.56 126.40L43.66 127.50L42.56 128.60L41.46 127.50Z" fill="#e2cf44"/>
<path d="M47.40 126.40L48.50 127.50L47.40 128.60L46.30 127.50Z" fill="#e2cf44"/>
<path d="M52.23 126.40L53.33 127.50L52.23 128.60L51.13 127.50Z" fill="#e2cf44"/>
<path d="M57.06 126.40L58.16 127.50L57.06 128.60L55.96 127.50Z" fill="#e2cf44"/>
<path d="M61.89 126.40L62.99 127.50L61.89 128.60L60.79 127.50Z" fill="#e2cf44"/>
<path d="M66.72 126.40L67.82 127.50L66.72 128.60L65.62 127.50Z" fill="#e2cf44"/>
<path d="M71.56 126.40L72.66 127.50L71.56 128.60L70.46 127.50Z" fill="#e2cf44"/>
<path d="M76.39 126.40L77.49 127.50L76.39 128.60L75.29 127.50Z" fill="#e2cf44"/>
<path d="M81.22 126.40L82.32 127.50L81.22 128.60L80.12 127.50Z" fill="#e2cf44"/>
<path d="M86.05 126.40L87.15 127.50L86.05 128.60L84.95 127.50Z" fill="#e2cf44"/>
<path d="M90.88 126.40L91.98 127.50L90.88 128.60L89.78 127.50Z" fill="#e2cf44"/>
<path d="M95.72 126.40L96.82 127.50L95.72 128.60L94.62 127.50Z" fill="#e2cf44"/>
<path d="M100.55 126.40L101.65 127.50L100.55 128.60L99.45 127.50Z" fill="#e2cf44"/>
<path d="M105.38 126.40L106.48 127.50L105.38 128.60L104.28 127.50Z" fill="#e2cf44"/>
<path d="M110.21 126.40L111.31 127.50L110.21 128.60L109.11 127.50Z" fill="#e2cf44"/>
<path d="M115.04 126.40L116.14 127.50L115.04 128.60L113.94 127.50Z" fill="#e2cf44"/>
<path d="M119.88 126.40L120.98 127.50L119.88 128.60L118.78 127.50Z" fill="#e2cf44"/>
<path d="M124.71 126.40L125.81 127.50L124.71 128.60L123.61 127.50Z" fill="#e2cf44"/>
<path d="M129.54 126.40L130.64 127.50L129.54 128.60L128.44 127.50Z" fill="#e2cf44"/>
<path d="M134.37 126.40L135.47 127.50L134.37 128.60L133.27 127.50Z" fill="#e2cf44"/>
<path d="M139.20 126.40L140.30 127.50L139.20 128.60L138.10 127.50Z" fill="#e2cf44"/>
<path d="M144.04 126.40L145.14 127.50L144.04 128.60L142.94 127.50Z" fill="#e2cf44"/>
<path d="M148.87 126.40L149.97 127.50L148.87 128.60L147.77 127.50Z" fill="#e2cf44"/>
<path d="M153.70 126.40L154.80 127.50L153.70 128.60L152.60 127.50Z" fill="#e2cf44"/>
<path d="M158.53 126.40L159.63 127.50L158.53 128.60L157.43 127.50Z" fill="#e2cf44"/>
<path d="M163.36 126.40L164.46 127.50L163.36 128.60L162.26 127.50Z" fill="#e2cf44"/>
<path d="M168.20 126.40L169.30 127.50L168.20 128.60L167.10 127.50Z" fill="#e2cf44"/>
<path d="M173.03 126.40L174.13 127.50L173.03 128.60L171.93 127.50Z" fill="#e2cf44"/>
<path d="M177.86 126.40L178.96 127.50L177.86 128.60L176.76 127.50Z" fill="#e2cf44"/>
<path d="M182.69 126.40L183.79 127.50L182.69 128.60L181.59 127.50Z" fill="#e2cf44"/>
<path d="M187.52 126.40L188.62 127.50L187.52 128.60L186.42 127.50Z" fill="#e2cf44"/>
<path d="M192.36 126.40L193.46 127.50L192.36 128.60L191.26 127.50Z" fill="#e2cf44"/>
<path d="M197.19 126.40L198.29 127.50L197.19 128.60L196.09 127.50Z" fill="#e2cf44"/>
<path d="M202.02 126.40L203.12 127.50L202.02 128.60L200.92 127.50Z" fill="#e2cf44"/>
<path d="M206.85 126.40L207.95 127.50L206.85 128.60L205.75 127.50Z" fill="#e2cf44"/>
<path d="M211.68 126.40L212.78 127.50L211.68 128.60L210.58 127.50Z" fill="#e2cf44"/>
<path d="M216.52 126.40L217.62 127.50L216.52 128.60L215.42 127.50Z" fill="#e2cf44"/>
<path d="M221.35 126.40L222.45 127.50L221.35 128.60L220.25 127.50Z" fill="#e2cf44"/>
<path d="M226.18 126.40L227.28 127.50L226.18 128.60L225.08 127.50Z" fill="#e2cf44"/>
<path d="M231.01 126.40L232.11 127.50L231.01 128.60L229.91 127.50Z" fill="#e2cf44"/>
<path d="M235.84 126.40L236.94 127.50L235.84 128.60L234.74 127.50Z" fill="#e2cf44"/>
<path d="M240.68 126.40L241.78 127.50L240.68 128.60L239.58 127.50Z" fill="#e2cf44"/>
<path d="M245.51 126.40L246.61 127.50L245.51 128.60L244.41 127.50Z" fill="#e2cf44"/>
<path d="M250.34 126.40L251.44 127.50L250.34 128.60L249.24 127.50Z" fill="#e2cf44"/>
<path d="M255.17 126.40L256.27 127.50L255.17 128.60L254.07 127.50Z" fill="#e2cf44"/>
<path d="M260.00 126.40L261.10 127.50L260.00 128.60L258.90 127.50Z" fill="#e2cf44"/>
<path d="M264.84 126.40L265.94 127.50L264.84 128.60L263.74 127.50Z" fill="#e2cf44"/>
<path d="M269.67 126.40L270.77 127.50L269.67 128.60L268.57 127.50Z" fill="#e2cf44"/>
<path d="M274.50 126.40L275.60 127.50L274.50 128.60L273.40 127.50Z" fill="#e2cf44"/>
<path d="M279.33 126.40L280.43 127.50L279.33 128.60L278.23 127.50Z" fill="#e2cf44"/>
<path d="M284.16 126.40L285.26 127.50L284.16 128.60L283.06 127.50Z" fill="#e2cf44"/>
<path d="M289.00 126.40L290.10 127.50L289.00 128.60L287.90 127.50Z" fill="#e2cf44"/>
<path d="M293.83 126.40L294.93 127.50L293.83 128.60L292.73 127.50Z" fill="#e2cf44"/>
<path d="M298.66 126.40L299.76 127.50L298.66 128.60L297.56 127.50Z" fill="#e2cf44"/>
<path d="M303.49 126.40L304.59 127.50L303.49 128.60L302.39 127.50Z" fill="#e2cf44"/>
<path d="M308.32 126.40L309.42 127.50L308.32 128.60L307.22 127.50Z" fill="#e2cf44"/>
<path d="M313.16 126.40L314.26 127.50L313.16 128.60L312.06 127.50Z" fill="#e2cf44"/>
<path d="M317.99 126.40L319.09 127.50L317.99 128.60L316.89 127.50Z" fill="#e2cf44"/>
<path d="M322.82 126.40L323.92 127.50L322.82 128.60L321.72 127.50Z" fill="#e2cf44"/>
<path d="M327.65 126.40L328.75 127.50L327.65 128.60L326.55 127.50Z" fill="#e2cf44"/>
<path d="M332.48 126.40L333.58 127.50L332.48 128.60L331.38 127.50Z" fill="#e2cf44"/>
<path d="M337.32 126.40L338.42 127.50L337.32 128.60L336.22 127.50Z" fill="#e2cf44"/>
<path d="M342.15 126.40L343.25 127.50L342.15 128.60L341.05 127.50Z" fill="#e2cf44"/>
<path d="M346.98 126.40L348.08 127.50L346.98 128.60L345.88 127.50Z" fill="#e2cf44"/>
<path d="M351.81 126.40L352.91 127.50L351.81 128.60L350.71 127.50Z" fill="#e2cf44"/>
<path d="M356.64 126.40L357.74 127.50L356.64 128.60L355.54 127.50Z" fill="#e2cf44"/>
<path d="M361.48 126.40L362.58 127.50L361.48 128.60L360.38 127.50Z" fill="#e2cf44"/>
<path d="M366.31 126.40L367.41 127.50L366.31 128.60L365.21 127.50Z" fill="#e2cf44"/>
<path d="M371.14 126.40L372.24 127.50L371.14 128.60L370.04 127.50Z" fill="#e2cf44"/>
<path d="M375.97 126.01L377.07 127.11L375.97 128.21L374.87 127.11Z" fill="#e2cf44"/>
<path d="M380.80 126.01L381.90 127.11L380.80 128.21L379.70 127.11Z" fill="#e2cf44"/>
<path d="M385.64 125.62L386.74 126.72L385.64 127.82L384.54 126.72Z" fill="#e2cf44"/>
<path d="M390.47 125.24L391.57 126.34L390.47 127.44L389.37 126.34Z" fill="#e2cf44"/>
<path d="M395.30 124.85L396.40 125.95L395.30 127.05L394.20 125.95Z" fill="#e2cf44"/>
<path d="M400.13 124.85L401.23 125.95L400.13 127.05L399.03 125.95Z" fill="#e2cf44"/>
<path d="M404.96 124.46L406.06 125.56L404.96 126.66L403.86 125.56Z" fill="#e2cf44"/>
<path d="M409.80 123.30L410.90 124.40L409.80 125.50L408.70 124.40Z" fill="#e2cf44"/>
<path d="M414.63 121.36L415.73 122.46L414.63 123.56L413.53 122.46Z" fill="#e2cf44"/>
<path d="M419.46 118.64L420.56 119.74L419.46 120.84L418.36 119.74Z" fill="#e2cf44"/>
<path d="M424.29 114.76L425.39 115.86L424.29 116.96L423.19 115.86Z" fill="#e2cf44"/>
<path d="M429.12 109.72L430.22 110.82L429.12 111.92L428.02 110.82Z" fill="#e2cf44"/>
<path d="M433.96 102.34L435.06 103.44L433.96 104.54L432.86 103.44Z" fill="#e2cf44"/>
<path d="M438.79 93.42L439.89 94.52L438.79 95.62L437.69 94.52Z" fill="#e2cf44"/>
<path d="M443.62 84.88L444.72 85.98L443.62 87.08L442.52 85.98Z" fill="#e2cf44"/>
<path d="M448.45 78.68L449.55 79.78L448.45 80.88L447.35 79.78Z" fill="#e2cf44"/>
<path d="M453.28 77.90L454.38 79.00L453.28 80.10L452.18 79.00Z" fill="#e2cf44"/>
<path d="M458.12 74.41L459.22 75.51L458.12 76.61L457.02 75.51Z" fill="#e2cf44"/>
<path d="M462.95 86.82L464.05 87.92L462.95 89.02L461.85 87.92Z" fill="#e2cf44"/>
<path d="M467.78 102.73L468.88 103.83L467.78 104.93L466.68 103.83Z" fill="#e2cf44"/>
<path d="M472.61 113.98L473.71 115.08L472.61 116.18L471.51 115.08Z" fill="#e2cf44"/>
<path d="M477.44 120.97L478.54 122.07L477.44 123.17L476.34 122.07Z" fill="#e2cf44"/>
<path d="M482.28 124.07L483.38 125.17L482.28 126.27L481.18 125.17Z" fill="#e2cf44"/>
<path d="M487.11 125.62L488.21 126.72L487.11 127.82L486.01 126.72Z" fill="#e2cf44"/>
<path d="M491.94 126.40L493.04 127.50L491.94 128.60L490.84 127.50Z" fill="#e2cf44"/>
<path d="M496.77 126.40L497.87 127.50L496.77 128.60L495.67 127.50Z" fill="#e2cf44"/>
<path d="M501.60 126.40L502.70 127.50L501.60 128.60L500.50 127.50Z" fill="#e2cf44"/>
<path d="M506.44 126.40L507.54 127.50L506.44 128.60L505.34 127.50Z" fill="#e2cf44"/>
<path d="M511.27 126.40L512.37 127.50L511.27 128.60L510.17 127.50Z" fill="#e2cf44"/>
<path d="M516.10 126.40L517.20 127.50L516.10 128.60L515.00 127.50Z" fill="#e2cf44"/>
<polyline points="32.90,127.50 37.73,127.50 42.56,127.50 47.40,127.50 52.23,127.50 57.06,127.50 61.89,127.50 66.72,127.50 71.56,127.50 76.39,127.50 81.22,127.50 86.05,127.50 90.88,127.50 95.72,127.50 100.55,127.50 105.38,127.50 110.21,127.50 115.04,127.50 119.88,127.50 124.71,127.50 129.54,127.50 134.37,127.50 139.20,127.50 144.04,127.50 148.87,127.50 153.70,127.50 158.53,127.50 163.36,127.50 168.20,127.50 173.03,127.50 177.86,127.50 182.69,127.50 187.52,127.50 192.36,127.50 197.19,127.50 202.02,127.50 206.85,127.50 211.68,127.50 216.52,127.50 221.35,127.50 226.18,127.50 231.01,127.50 235.84,127.50 240.68,127.50 245.51,127.50 250.34,127.50 255.17,127.50 260.00,127.50 264.84,127.50 269.67,127.50 274.50,127.50 279.33,127.50 284.16,127.50 289.00,127.50 293.83,127.50 298.66,127.50 303.49,127.50 308.32,127.50 313.16,127.50 317.99,127.50 322.82,127.50 327.65,127.50 332.48,127.50 337.32,127.50 342.15,127.50 346.98,127.50 351.81,127.50 356.64,127.50 361.48,127.50 366.31,127.50 371.14,127.50 375.97,126.72 380.80,125.75 385.64,125.17 390.47,124.40 395.30,123.62 400.13,123.39 404.96,120.28 409.80,118.19 414.63,113.53 419.46,110.82 424.29,104.22 429.12,101.89 433.96,94.91 438.79,91.03 443.62,89.86 448.45,89.86 453.28,93.74 458.12,98.21 462.95,101.89 467.78,109.26 472.61,115.86 477.44,120.52 482.28,124.78 487.11,126.34 491.94,127.11 496.77,127.50 501.60,127.50 506.44,127.50 511.27,127.50 516.10,127.50" fill="none" stroke="#1c766c" stroke-width="1" stroke-linejoin="round"/>
<rect x="31.35" y="125.95" width="3.1" height="3.1" rx="0.70" fill="#1c766c"/>
<rect x="36.18" y="125.95" width="3.1" height="3.1" rx="0.70" fill="#1c766c"/>
<rect x="41.01" y="125.95" width="3.1" height="3.1" rx="0.70" fill="#1c766c"/>
<rect x="45.85" y="125.95" width="3.1" height="3.1" rx="0.70" fill="#1c766c"/>
<rect x="50.68" y="125.95" width="3.1" height="3.1" rx="0.70" fill="#1c766c"/>
<rect x="55.51" y="125.95" width="3.1" height="3.1" rx="0.70" fill="#1c766c"/>
<rect x="60.34" y="125.95" width="3.1" height="3.1" rx="0.70" fill="#1c766c"/>
<rect x="65.17" y="125.95" width="3.1" height="3.1" rx="0.70" fill="#1c766c"/>
<rect x="70.01" y="125.95" width="3.1" height="3.1" rx="0.70" fill="#1c766c"/>
<rect x="74.84" y="125.95" width="3.1" height="3.1" rx="0.70" fill="#1c766c"/>
<rect x="79.67" y="125.95" width="3.1" height="3.1" rx="0.70" fill="#1c766c"/>
<rect x="84.50" y="125.95" width="3.1" height="3.1" rx="0.70" fill="#1c766c"/>
<rect x="89.33" y="125.95" width="3.1" height="3.1" rx="0.70" fill="#1c766c"/>
<rect x="94.17" y="125.95" width="3.1" height="3.1" rx="0.70" fill="#1c766c"/>
<rect x="99.00" y="125.95" width="3.1" height="3.1" rx="0.70" fill="#1c766c"/>
<rect x="103.83" y="125.95" width="3.1" height="3.1" rx="0.70" fill="#1c766c"/>
<rect x="108.66" y="125.95" width="3.1" height="3.1" rx="0.70" fill="#1c766c"/>
<rect x="113.49" y="125.95" width="3.1" height="3.1" rx="0.70" fill="#1c766c"/>
<rect x="118.33" y="125.95" width="3.1" height="3.1" rx="0.70" fill="#1c766c"/>
<rect x="123.16" y="125.95" width="3.1" height="3.1" rx="0.70" fill="#1c766c"/>
<rect x="127.99" y="125.95" width="3.1" height="3.1" rx="0.70" fill="#1c766c"/>
<rect x="132.82" y="125.95" width="3.1" height="3.1" rx="0.70" fill="#1c766c"/>
<rect x="137.65" y="125.95" width="3.1" height="3.1" rx="0.70" fill="#1c766c"/>
<rect x="142.49" y="125.95" width="3.1" height="3.1" rx="0.70" fill="#1c766c"/>
<rect x="147.32" y="125.95" width="3.1" height="3.1" rx="0.70" fill="#1c766c"/>
<rect x="152.15" y="125.95" width="3.1" height="3.1" rx="0.70" fill="#1c766c"/>
<rect x="156.98" y="125.95" width="3.1" height="3.1" rx="0.70" fill="#1c766c"/>
<rect x="161.81" y="125.95" width="3.1" height="3.1" rx="0.70" fill="#1c766c"/>
<rect x="166.65" y="125.95" width="3.1" height="3.1" rx="0.70" fill="#1c766c"/>
<rect x="171.48" y="125.95" width="3.1" height="3.1" rx="0.70" fill="#1c766c"/>
<rect x="176.31" y="125.95" width="3.1" height="3.1" rx="0.70" fill="#1c766c"/>
<rect x="181.14" y="125.95" width="3.1" height="3.1" rx="0.70" fill="#1c766c"/>
<rect x="185.97" y="125.95" width="3.1" height="3.1" rx="0.70" fill="#1c766c"/>
<rect x="190.81" y="125.95" width="3.1" height="3.1" rx="0.70" fill="#1c766c"/>
<rect x="195.64" y="125.95" width="3.1" height="3.1" rx="0.70" fill="#1c766c"/>
<rect x="200.47" y="125.95" width="3.1" height="3.1" rx="0.70" fill="#1c766c"/>
<rect x="205.30" y="125.95" width="3.1" height="3.1" rx="0.70" fill="#1c766c"/>
<rect x="210.13" y="125.95" width="3.1" height="3.1" rx="0.70" fill="#1c766c"/>
<rect x="214.97" y="125.95" width="3.1" height="3.1" rx="0.70" fill="#1c766c"/>
<rect x="219.80" y="125.95" width="3.1" height="3.1" rx="0.70" fill="#1c766c"/>
<rect x="224.63" y="125.95" width="3.1" height="3.1" rx="0.70" fill="#1c766c"/>
<rect x="229.46" y="125.95" width="3.1" height="3.1" rx="0.70" fill="#1c766c"/>
<rect x="234.29" y="125.95" width="3.1" height="3.1" rx="0.70" fill="#1c766c"/>
<rect x="239.13" y="125.95" width="3.1" height="3.1" rx="0.70" fill="#1c766c"/>
<rect x="243.96" y="125.95" width="3.1" height="3.1" rx="0.70" fill="#1c766c"/>
<rect x="248.79" y="125.95" width="3.1" height="3.1" rx="0.70" fill="#1c766c"/>
<rect x="253.62" y="125.95" width="3.1" height="3.1" rx="0.70" fill="#1c766c"/>
<rect x="258.45" y="125.95" width="3.1" height="3.1" rx="0.70" fill="#1c766c"/>
<rect x="263.29" y="125.95" width="3.1" height="3.1" rx="0.70" fill="#1c766c"/>
<rect x="268.12" y="125.95" width="3.1" height="3.1" rx="0.70" fill="#1c766c"/>
<rect x="272.95" y="125.95" width="3.1" height="3.1" rx="0.70" fill="#1c766c"/>
<rect x="277.78" y="125.95" width="3.1" height="3.1" rx="0.70" fill="#1c766c"/>
<rect x="282.61" y="125.95" width="3.1" height="3.1" rx="0.70" fill="#1c766c"/>
<rect x="287.45" y="125.95" width="3.1" height="3.1" rx="0.70" fill="#1c766c"/>
<rect x="292.28" y="125.95" width="3.1" height="3.1" rx="0.70" fill="#1c766c"/>
<rect x="297.11" y="125.95" width="3.1" height="3.1" rx="0.70" fill="#1c766c"/>
<rect x="301.94" y="125.95" width="3.1" height="3.1" rx="0.70" fill="#1c766c"/>
<rect x="306.77" y="125.95" width="3.1" height="3.1" rx="0.70" fill="#1c766c"/>
<rect x="311.61" y="125.95" width="3.1" height="3.1" rx="0.70" fill="#1c766c"/>
<rect x="316.44" y="125.95" width="3.1" height="3.1" rx="0.70" fill="#1c766c"/>
<rect x="321.27" y="125.95" width="3.1" height="3.1" rx="0.70" fill="#1c766c"/>
<rect x="326.10" y="125.95" width="3.1" height="3.1" rx="0.70" fill="#1c766c"/>
<rect x="330.93" y="125.95" width="3.1" height="3.1" rx="0.70" fill="#1c766c"/>
<rect x="335.77" y="125.95" width="3.1" height="3.1" rx="0.70" fill="#1c766c"/>
<rect x="340.60" y="125.95" width="3.1" height="3.1" rx="0.70" fill="#1c766c"/>
<rect x="345.43" y="125.95" width="3.1" height="3.1" rx="0.70" fill="#1c766c"/>
<rect x="350.26" y="125.95" width="3.1" height="3.1" rx="0.70" fill="#1c766c"/>
<rect x="355.09" y="125.95" width="3.1" height="3.1" rx="0.70" fill="#1c766c"/>
<rect x="359.93" y="125.95" width="3.1" height="3.1" rx="0.70" fill="#1c766c"/>
<rect x="364.76" y="125.95" width="3.1" height="3.1" rx="0.70" fill="#1c766c"/>
<rect x="369.59" y="125.95" width="3.1" height="3.1" rx="0.70" fill="#1c766c"/>
<rect x="374.57" y="125.32" width="2.8" height="2.8" rx="0.63" fill="#1c766c"/>
<rect x="379.40" y="124.35" width="2.8" height="2.8" rx="0.63" fill="#1c766c"/>
<rect x="384.24" y="123.77" width="2.8" height="2.8" rx="0.63" fill="#1c766c"/>
<rect x="389.07" y="123.00" width="2.8" height="2.8" rx="0.63" fill="#1c766c"/>
<rect x="393.90" y="122.22" width="2.8" height="2.8" rx="0.63" fill="#1c766c"/>
<rect x="398.73" y="121.99" width="2.8" height="2.8" rx="0.63" fill="#1c766c"/>
<rect x="403.56" y="118.88" width="2.8" height="2.8" rx="0.63" fill="#1c766c"/>
<rect x="408.40" y="116.79" width="2.8" height="2.8" rx="0.63" fill="#1c766c"/>
<rect x="413.23" y="112.13" width="2.8" height="2.8" rx="0.63" fill="#1c766c"/>
<rect x="418.06" y="109.42" width="2.8" height="2.8" rx="0.63" fill="#1c766c"/>
<rect x="422.89" y="102.82" width="2.8" height="2.8" rx="0.63" fill="#1c766c"/>
<rect x="427.72" y="100.49" width="2.8" height="2.8" rx="0.63" fill="#1c766c"/>
<rect x="432.56" y="93.51" width="2.8" height="2.8" rx="0.63" fill="#1c766c"/>
<rect x="437.39" y="89.63" width="2.8" height="2.8" rx="0.63" fill="#1c766c"/>
<rect x="442.22" y="88.46" width="2.8" height="2.8" rx="0.63" fill="#1c766c"/>
<rect x="447.05" y="88.46" width="2.8" height="2.8" rx="0.63" fill="#1c766c"/>
<rect x="451.88" y="92.34" width="2.8" height="2.8" rx="0.63" fill="#1c766c"/>
<rect x="456.72" y="96.81" width="2.8" height="2.8" rx="0.63" fill="#1c766c"/>
<rect x="461.55" y="100.49" width="2.8" height="2.8" rx="0.63" fill="#1c766c"/>
<rect x="466.38" y="107.86" width="2.8" height="2.8" rx="0.63" fill="#1c766c"/>
<rect x="471.21" y="114.46" width="2.8" height="2.8" rx="0.63" fill="#1c766c"/>
<rect x="476.04" y="119.12" width="2.8" height="2.8" rx="0.63" fill="#1c766c"/>
<rect x="480.88" y="123.38" width="2.8" height="2.8" rx="0.63" fill="#1c766c"/>
<rect x="485.71" y="124.94" width="2.8" height="2.8" rx="0.63" fill="#1c766c"/>
<rect x="490.54" y="125.71" width="2.8" height="2.8" rx="0.63" fill="#1c766c"/>
<rect x="495.22" y="125.95" width="3.1" height="3.1" rx="0.70" fill="#1c766c"/>
<rect x="500.05" y="125.95" width="3.1" height="3.1" rx="0.70" fill="#1c766c"/>
<rect x="504.89" y="125.95" width="3.1" height="3.1" rx="0.70" fill="#1c766c"/>
<rect x="509.72" y="125.95" width="3.1" height="3.1" rx="0.70" fill="#1c766c"/>
<rect x="514.55" y="125.95" width="3.1" height="3.1" rx="0.70" fill="#1c766c"/>
<line x1="50.90" y1="162.50" x2="58.10" y2="162.50" stroke="#6292d0" stroke-width="1"/>
<circle cx="54.50" cy="162.50" r="1.3" fill="#6292d0"/>
<text x="60.84" y="164.80" font-size="6.2" font-weight="bold" fill="#222" textLength="28.81" lengthAdjust="spacingAndGlyphs" stroke="#222" stroke-width="0.12">PB_blood_</text>
<text x="89.99" y="164.80" font-size="6.2" font-weight="bold" fill="#222" textLength="21.26" lengthAdjust="spacingAndGlyphs" stroke="#222" stroke-width="0.12">normal</text>
<text x="112.65" y="164.80" font-size="6.2" font-weight="bold" fill="#222" textLength="36.13" lengthAdjust="spacingAndGlyphs" stroke="#222" stroke-width="0.12">cg27247697</text>
<line x1="157.00" y1="162.50" x2="164.20" y2="162.50" stroke="#1e1e22" stroke-width="1"/>
<path d="M160.60 160.90L162.20 162.50L160.60 164.10L159.00 162.50Z" fill="#1e1e22"/>
<text x="166.94" y="164.80" font-size="6.2" font-weight="bold" fill="#222" textLength="28.81" lengthAdjust="spacingAndGlyphs" stroke="#222" stroke-width="0.12">PB_blood_</text>
<text x="196.09" y="164.80" font-size="6.2" font-weight="bold" fill="#222" textLength="21.26" lengthAdjust="spacingAndGlyphs" stroke="#222" stroke-width="0.12">normal</text>
<text x="218.75" y="164.80" font-size="6.2" font-weight="bold" fill="#222" textLength="36.10" lengthAdjust="spacingAndGlyphs" stroke="#222" stroke-width="0.12">cg00670742</text>
<line x1="263.10" y1="162.50" x2="270.30" y2="162.50" stroke="#72dc5a" stroke-width="1"/>
<rect x="265.40" y="161.20" width="2.6" height="2.6" rx="0.59" fill="#72dc5a"/>
<text x="273.04" y="164.80" font-size="6.2" font-weight="bold" fill="#222" textLength="28.81" lengthAdjust="spacingAndGlyphs" stroke="#222" stroke-width="0.12">PB_blood_</text>
<text x="302.19" y="164.80" font-size="6.2" font-weight="bold" fill="#222" textLength="21.26" lengthAdjust="spacingAndGlyphs" stroke="#222" stroke-width="0.12">normal</text>
<text x="324.85" y="164.80" font-size="6.2" font-weight="bold" fill="#222" textLength="36.08" lengthAdjust="spacingAndGlyphs" stroke="#222" stroke-width="0.12">cg05163496</text>
<line x1="369.20" y1="162.50" x2="376.40" y2="162.50" stroke="#e88a40" stroke-width="1"/>
<path d="M372.80 161.20L374.10 163.80L371.50 163.80Z" fill="#e88a40"/>
<text x="379.14" y="164.80" font-size="6.2" font-weight="bold" fill="#222" textLength="28.81" lengthAdjust="spacingAndGlyphs" stroke="#222" stroke-width="0.12">PB_blood_</text>
<text x="408.29" y="164.80" font-size="6.2" font-weight="bold" fill="#222" textLength="21.26" lengthAdjust="spacingAndGlyphs" stroke="#222" stroke-width="0.12">normal</text>
<text x="430.95" y="164.80" font-size="6.2" font-weight="bold" fill="#222" textLength="36.13" lengthAdjust="spacingAndGlyphs" stroke="#222" stroke-width="0.12">cg01836137</text>
<line x1="50.90" y1="170.80" x2="58.10" y2="170.80" stroke="#5458cc" stroke-width="1"/>
<path d="M53.20 169.50L55.80 169.50L54.50 172.10Z" fill="#5458cc"/>
<text x="60.84" y="173.10" font-size="6.2" font-weight="bold" fill="#222" textLength="28.81" lengthAdjust="spacingAndGlyphs" stroke="#222" stroke-width="0.12">PB_blood_</text>
<text x="89.99" y="173.10" font-size="6.2" font-weight="bold" fill="#222" textLength="21.26" lengthAdjust="spacingAndGlyphs" stroke="#222" stroke-width="0.12">normal</text>
<text x="112.65" y="173.10" font-size="6.2" font-weight="bold" fill="#222" textLength="36.02" lengthAdjust="spacingAndGlyphs" stroke="#222" stroke-width="0.12">cg00454305</text>
<line x1="157.00" y1="170.80" x2="164.20" y2="170.80" stroke="#db3b6b" stroke-width="1"/>
<circle cx="160.60" cy="170.80" r="1.3" fill="#db3b6b"/>
<text x="166.94" y="173.10" font-size="6.2" font-weight="bold" fill="#222" textLength="28.81" lengthAdjust="spacingAndGlyphs" stroke="#222" stroke-width="0.12">PB_blood_</text>
<text x="196.09" y="173.10" font-size="6.2" font-weight="bold" fill="#222" textLength="21.26" lengthAdjust="spacingAndGlyphs" stroke="#222" stroke-width="0.12">normal</text>
<text x="218.75" y="173.10" font-size="6.2" font-weight="bold" fill="#222" textLength="36.02" lengthAdjust="spacingAndGlyphs" stroke="#222" stroke-width="0.12">cg25939861</text>
<line x1="263.10" y1="170.80" x2="270.30" y2="170.80" stroke="#e2cf44" stroke-width="1"/>
<path d="M266.70 169.20L268.30 170.80L266.70 172.40L265.10 170.80Z" fill="#e2cf44"/>
<text x="273.04" y="173.10" font-size="6.2" font-weight="bold" fill="#222" textLength="28.81" lengthAdjust="spacingAndGlyphs" stroke="#222" stroke-width="0.12">PB_blood_</text>
<text x="302.19" y="173.10" font-size="6.2" font-weight="bold" fill="#222" textLength="21.26" lengthAdjust="spacingAndGlyphs" stroke="#222" stroke-width="0.12">normal</text>
<text x="324.85" y="173.10" font-size="6.2" font-weight="bold" fill="#222" textLength="36.02" lengthAdjust="spacingAndGlyphs" stroke="#222" stroke-width="0.12">cg13681325</text>
<line x1="369.20" y1="170.80" x2="376.40" y2="170.80" stroke="#1c766c" stroke-width="1"/>
<rect x="371.50" y="169.50" width="2.6" height="2.6" rx="0.59" fill="#1c766c"/>
<text x="379.14" y="173.10" font-size="6.2" font-weight="bold" fill="#222" textLength="28.81" lengthAdjust="spacingAndGlyphs" stroke="#222" stroke-width="0.12">PB_blood_</text>
<text x="408.29" y="173.10" font-size="6.2" font-weight="bold" fill="#222" textLength="21.26" lengthAdjust="spacingAndGlyphs" stroke="#222" stroke-width="0.12">normal</text>
<text x="430.95" y="173.10" font-size="6.2" font-weight="bold" fill="#222" textLength="36.02" lengthAdjust="spacingAndGlyphs" stroke="#222" stroke-width="0.12">cg00219921</text>
<text class="serif" x="0.9" y="205.7" font-size="15.9" fill="#111">B</text>
<text x="242.10" y="204.50" font-size="9" fill="#333" textLength="14.79" lengthAdjust="spacingAndGlyphs" stroke="#333" stroke-width="0.3">Box</text>
<text x="259.60" y="204.50" font-size="9" fill="#333" textLength="14.66" lengthAdjust="spacingAndGlyphs" stroke="#333" stroke-width="0.3">Plot</text>
<line x1="30" y1="218.10" x2="518.3" y2="218.10" stroke="#e6e6e6" stroke-width="1"/>
<line x1="30" y1="245.50" x2="518.3" y2="245.50" stroke="#e6e6e6" stroke-width="1"/>
<line x1="30" y1="272.90" x2="518.3" y2="272.90" stroke="#e6e6e6" stroke-width="1"/>
<line x1="30" y1="300.30" x2="518.3" y2="300.30" stroke="#e6e6e6" stroke-width="1"/>
<line x1="30" y1="327.70" x2="518.3" y2="327.70" stroke="#e6e6e6" stroke-width="1"/>
<text x="22.8" y="220.60" font-size="5.7" font-weight="bold" fill="#505050" text-anchor="end">1.25</text>
<text x="22.8" y="248.00" font-size="5.7" font-weight="bold" fill="#505050" text-anchor="end">1</text>
<text x="22.8" y="275.40" font-size="5.7" font-weight="bold" fill="#505050" text-anchor="end">0.75</text>
<text x="22.8" y="302.80" font-size="5.7" font-weight="bold" fill="#505050" text-anchor="end">0.5</text>
<text x="22.8" y="330.20" font-size="5.7" font-weight="bold" fill="#505050" text-anchor="end">0.25</text>
<text x="22.8" y="357.60" font-size="5.7" font-weight="bold" fill="#505050" text-anchor="end">0</text>
<line x1="30" y1="355.3" x2="518.3" y2="355.3" stroke="#c8c8c8" stroke-width="1"/>
<line x1="30.00" y1="355.3" x2="30.00" y2="359.3" stroke="#c8c8c8" stroke-width="0.8"/>
<line x1="91.00" y1="355.3" x2="91.00" y2="359.3" stroke="#c8c8c8" stroke-width="0.8"/>
<line x1="152.00" y1="355.3" x2="152.00" y2="359.3" stroke="#c8c8c8" stroke-width="0.8"/>
<line x1="213.00" y1="355.3" x2="213.00" y2="359.3" stroke="#c8c8c8" stroke-width="0.8"/>
<line x1="274.00" y1="355.3" x2="274.00" y2="359.3" stroke="#c8c8c8" stroke-width="0.8"/>
<line x1="335.00" y1="355.3" x2="335.00" y2="359.3" stroke="#c8c8c8" stroke-width="0.8"/>
<line x1="396.00" y1="355.3" x2="396.00" y2="359.3" stroke="#c8c8c8" stroke-width="0.8"/>
<line x1="457.00" y1="355.3" x2="457.00" y2="359.3" stroke="#c8c8c8" stroke-width="0.8"/>
<line x1="517.90" y1="355.3" x2="517.90" y2="359.3" stroke="#c8c8c8" stroke-width="0.8"/>
<text transform="translate(7.2 286) rotate(-90)" x="-13.3" y="0" font-size="6.0" fill="#4a4a4a" stroke="#4a4a4a" stroke-width="0.15" textLength="26.6" lengthAdjust="spacingAndGlyphs">beta value</text>
<line x1="60.50" y1="304.98" x2="60.50" y2="342.25" stroke="#86b6e8" stroke-width="0.9"/>
<line x1="60.50" y1="345.32" x2="60.50" y2="350.58" stroke="#86b6e8" stroke-width="0.9"/>
<line x1="53.00" y1="304.98" x2="68.00" y2="304.98" stroke="#6ea6e0" stroke-width="1.2"/>
<line x1="53.00" y1="350.58" x2="68.00" y2="350.58" stroke="#6ea6e0" stroke-width="1.2"/>
<rect x="45.50" y="342.25" width="30" height="3.07" fill="#fff" stroke="#6ea6e0" stroke-width="0.8"/>
<line x1="45.50" y1="344.44" x2="75.50" y2="344.44" stroke="#6ea6e0" stroke-width="1"/>
<circle cx="60.50" cy="354.74" r="2.1" fill="#fff" stroke="#6ea6e0" stroke-width="0.8"/>
<text x="39.79" y="365.00" font-size="5.8" fill="#444" textLength="24.65" lengthAdjust="spacingAndGlyphs" stroke="#444" stroke-width="0.3">PB_blood_</text>
<text x="64.63" y="365.00" font-size="5.8" fill="#444" textLength="17.14" lengthAdjust="spacingAndGlyphs" stroke="#444" stroke-width="0.3">normal</text>
<text x="44.76" y="372.00" font-size="5.8" fill="#444" textLength="31.22" lengthAdjust="spacingAndGlyphs" stroke="#444" stroke-width="0.3">cg27247697</text>
<line x1="121.50" y1="331.07" x2="121.50" y2="346.41" stroke="#86b6e8" stroke-width="0.9"/>
<line x1="121.50" y1="349.92" x2="121.50" y2="352.88" stroke="#86b6e8" stroke-width="0.9"/>
<line x1="114.00" y1="331.07" x2="129.00" y2="331.07" stroke="#6ea6e0" stroke-width="1.2"/>
<line x1="114.00" y1="352.88" x2="129.00" y2="352.88" stroke="#6ea6e0" stroke-width="1.2"/>
<rect x="106.50" y="346.41" width="30" height="3.51" fill="#fff" stroke="#6ea6e0" stroke-width="0.8"/>
<line x1="106.50" y1="348.17" x2="136.50" y2="348.17" stroke="#6ea6e0" stroke-width="1"/>
<text x="100.79" y="365.00" font-size="5.8" fill="#444" textLength="24.65" lengthAdjust="spacingAndGlyphs" stroke="#444" stroke-width="0.3">PB_blood_</text>
<text x="125.63" y="365.00" font-size="5.8" fill="#444" textLength="17.14" lengthAdjust="spacingAndGlyphs" stroke="#444" stroke-width="0.3">normal</text>
<text x="105.76" y="372.00" font-size="5.8" fill="#444" textLength="31.22" lengthAdjust="spacingAndGlyphs" stroke="#444" stroke-width="0.3">cg00670742</text>
<line x1="182.50" y1="312.22" x2="182.50" y2="340.06" stroke="#86b6e8" stroke-width="0.9"/>
<line x1="182.50" y1="345.32" x2="182.50" y2="351.67" stroke="#86b6e8" stroke-width="0.9"/>
<line x1="175.00" y1="312.22" x2="190.00" y2="312.22" stroke="#6ea6e0" stroke-width="1.2"/>
<line x1="175.00" y1="351.67" x2="190.00" y2="351.67" stroke="#6ea6e0" stroke-width="1.2"/>
<rect x="167.50" y="340.06" width="30" height="5.26" fill="#fff" stroke="#6ea6e0" stroke-width="0.8"/>
<line x1="167.50" y1="342.91" x2="197.50" y2="342.91" stroke="#6ea6e0" stroke-width="1"/>
<text x="161.79" y="365.00" font-size="5.8" fill="#444" textLength="24.65" lengthAdjust="spacingAndGlyphs" stroke="#444" stroke-width="0.3">PB_blood_</text>
<text x="186.63" y="365.00" font-size="5.8" fill="#444" textLength="17.14" lengthAdjust="spacingAndGlyphs" stroke="#444" stroke-width="0.3">normal</text>
<text x="166.76" y="372.00" font-size="5.8" fill="#444" textLength="31.18" lengthAdjust="spacingAndGlyphs" stroke="#444" stroke-width="0.3">cg05163496</text>
<line x1="243.50" y1="265.53" x2="243.50" y2="296.22" stroke="#86b6e8" stroke-width="0.9"/>
<line x1="243.50" y1="304.33" x2="243.50" y2="340.06" stroke="#86b6e8" stroke-width="0.9"/>
<line x1="236.00" y1="265.53" x2="251.00" y2="265.53" stroke="#6ea6e0" stroke-width="1.2"/>
<line x1="236.00" y1="340.06" x2="251.00" y2="340.06" stroke="#6ea6e0" stroke-width="1.2"/>
<rect x="228.50" y="296.22" width="30" height="8.11" fill="#fff" stroke="#6ea6e0" stroke-width="0.8"/>
<line x1="228.50" y1="300.60" x2="258.50" y2="300.60" stroke="#6ea6e0" stroke-width="1"/>
<text x="222.79" y="365.00" font-size="5.8" fill="#444" textLength="24.65" lengthAdjust="spacingAndGlyphs" stroke="#444" stroke-width="0.3">PB_blood_</text>
<text x="247.63" y="365.00" font-size="5.8" fill="#444" textLength="17.14" lengthAdjust="spacingAndGlyphs" stroke="#444" stroke-width="0.3">normal</text>
<text x="227.76" y="372.00" font-size="5.8" fill="#444" textLength="31.22" lengthAdjust="spacingAndGlyphs" stroke="#444" stroke-width="0.3">cg01836137</text>
<line x1="304.50" y1="271.34" x2="304.50" y2="295.23" stroke="#86b6e8" stroke-width="0.9"/>
<line x1="304.50" y1="305.64" x2="304.50" y2="329.97" stroke="#86b6e8" stroke-width="0.9"/>
<line x1="297.00" y1="271.34" x2="312.00" y2="271.34" stroke="#6ea6e0" stroke-width="1.2"/>
<line x1="297.00" y1="329.97" x2="312.00" y2="329.97" stroke="#6ea6e0" stroke-width="1.2"/>
<rect x="289.50" y="295.23" width="30" height="10.41" fill="#fff" stroke="#6ea6e0" stroke-width="0.8"/>
<line x1="289.50" y1="300.27" x2="319.50" y2="300.27" stroke="#6ea6e0" stroke-width="1"/>
<text x="283.79" y="365.00" font-size="5.8" fill="#444" textLength="24.65" lengthAdjust="spacingAndGlyphs" stroke="#444" stroke-width="0.3">PB_blood_</text>
<text x="308.63" y="365.00" font-size="5.8" fill="#444" textLength="17.14" lengthAdjust="spacingAndGlyphs" stroke="#444" stroke-width="0.3">normal</text>
<text x="288.76" y="372.00" font-size="5.8" fill="#444" textLength="31.17" lengthAdjust="spacingAndGlyphs" stroke="#444" stroke-width="0.3">cg00454305</text>
<line x1="365.50" y1="253.03" x2="365.50" y2="263.23" stroke="#86b6e8" stroke-width="0.9"/>
<line x1="365.50" y1="269.69" x2="365.50" y2="347.18" stroke="#86b6e8" stroke-width="0.9"/>
<line x1="358.00" y1="253.03" x2="373.00" y2="253.03" stroke="#6ea6e0" stroke-width="1.2"/>
<line x1="358.00" y1="347.18" x2="373.00" y2="347.18" stroke="#6ea6e0" stroke-width="1.2"/>
<rect x="350.50" y="263.23" width="30" height="6.47" fill="#fff" stroke="#6ea6e0" stroke-width="0.8"/>
<line x1="350.50" y1="266.51" x2="380.50" y2="266.51" stroke="#6ea6e0" stroke-width="1"/>
<text x="344.79" y="365.00" font-size="5.8" fill="#444" textLength="24.65" lengthAdjust="spacingAndGlyphs" stroke="#444" stroke-width="0.3">PB_blood_</text>
<text x="369.63" y="365.00" font-size="5.8" fill="#444" textLength="17.14" lengthAdjust="spacingAndGlyphs" stroke="#444" stroke-width="0.3">normal</text>
<text x="349.76" y="372.00" font-size="5.8" fill="#444" textLength="31.21" lengthAdjust="spacingAndGlyphs" stroke="#444" stroke-width="0.3">cg25939861</text>
<line x1="426.50" y1="249.64" x2="426.50" y2="258.51" stroke="#86b6e8" stroke-width="0.9"/>
<line x1="426.50" y1="263.01" x2="426.50" y2="319.89" stroke="#86b6e8" stroke-width="0.9"/>
<line x1="419.00" y1="249.64" x2="434.00" y2="249.64" stroke="#6ea6e0" stroke-width="1.2"/>
<line x1="419.00" y1="319.89" x2="434.00" y2="319.89" stroke="#6ea6e0" stroke-width="1.2"/>
<rect x="411.50" y="258.51" width="30" height="4.49" fill="#fff" stroke="#6ea6e0" stroke-width="0.8"/>
<line x1="411.50" y1="260.82" x2="441.50" y2="260.82" stroke="#6ea6e0" stroke-width="1"/>
<text x="405.79" y="365.00" font-size="5.8" fill="#444" textLength="24.65" lengthAdjust="spacingAndGlyphs" stroke="#444" stroke-width="0.3">PB_blood_</text>
<text x="430.63" y="365.00" font-size="5.8" fill="#444" textLength="17.14" lengthAdjust="spacingAndGlyphs" stroke="#444" stroke-width="0.3">normal</text>
<text x="410.76" y="372.00" font-size="5.8" fill="#444" textLength="31.17" lengthAdjust="spacingAndGlyphs" stroke="#444" stroke-width="0.3">cg13681325</text>
<line x1="487.50" y1="251.28" x2="487.50" y2="259.83" stroke="#86b6e8" stroke-width="0.9"/>
<line x1="487.50" y1="265.53" x2="487.50" y2="319.89" stroke="#86b6e8" stroke-width="0.9"/>
<line x1="480.00" y1="251.28" x2="495.00" y2="251.28" stroke="#6ea6e0" stroke-width="1.2"/>
<line x1="480.00" y1="319.89" x2="495.00" y2="319.89" stroke="#6ea6e0" stroke-width="1.2"/>
<rect x="472.50" y="259.83" width="30" height="5.70" fill="#fff" stroke="#6ea6e0" stroke-width="0.8"/>
<line x1="472.50" y1="261.69" x2="502.50" y2="261.69" stroke="#6ea6e0" stroke-width="1"/>
<circle cx="487.50" cy="354.08" r="2.1" fill="#fff" stroke="#6ea6e0" stroke-width="0.8"/>
<text x="466.79" y="365.00" font-size="5.8" fill="#444" textLength="24.65" lengthAdjust="spacingAndGlyphs" stroke="#444" stroke-width="0.3">PB_blood_</text>
<text x="491.63" y="365.00" font-size="5.8" fill="#444" textLength="17.14" lengthAdjust="spacingAndGlyphs" stroke="#444" stroke-width="0.3">normal</text>
<text x="471.76" y="372.00" font-size="5.8" fill="#444" textLength="31.21" lengthAdjust="spacingAndGlyphs" stroke="#444" stroke-width="0.3">cg00219921</text>
</svg></body></html>
